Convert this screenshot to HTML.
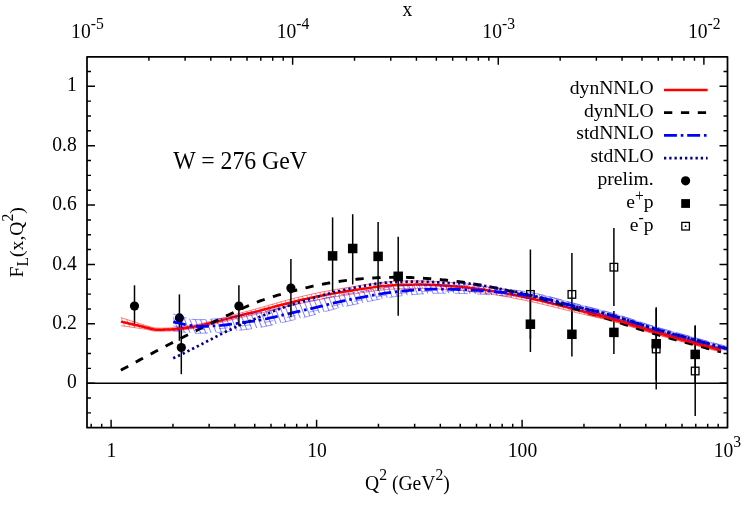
<!DOCTYPE html>
<html><head><meta charset="utf-8"><title>F_L(x,Q^2), W = 276 GeV</title>
<style>html,body{margin:0;padding:0;background:#fff;}body{width:747px;height:523px;overflow:hidden;font-family:"Liberation Serif",serif;}svg{display:block;will-change:transform;}text{font-family:"Liberation Serif",serif;fill:#000;}</style></head><body>
<svg width="747" height="523" viewBox="0 0 747 523">
<rect x="0" y="0" width="747" height="523" fill="#ffffff"/>
<defs>
<pattern id="hb" width="4.9" height="8" patternUnits="userSpaceOnUse" patternTransform="rotate(-22)"><line x1="2.45" y1="-1" x2="2.45" y2="9" stroke="#0000ff" stroke-width="0.5"/></pattern>
<pattern id="hr" width="4.4" height="8" patternUnits="userSpaceOnUse" patternTransform="rotate(-22)"><line x1="2.2" y1="-1" x2="2.2" y2="9" stroke="#ff0000" stroke-width="0.45"/></pattern>
<clipPath id="cp"><rect x="87" y="56.8" width="640.5" height="370.9"/></clipPath>
<clipPath id="cl"><rect x="87" y="56.8" width="498" height="370.9"/></clipPath>
<clipPath id="cr"><rect x="585" y="56.8" width="142.5" height="370.9"/></clipPath>
</defs>
<line x1="87" y1="383.2" x2="727.5" y2="383.2" stroke="#000" stroke-width="1.4"/>
<line x1="134.5" y1="285.3" x2="134.5" y2="326.3" stroke="#000" stroke-width="1.5"/>
<circle cx="134.5" cy="306.1" r="4.6" fill="#000"/>
<line x1="179.4" y1="294.4" x2="179.4" y2="340.8" stroke="#000" stroke-width="1.5"/>
<circle cx="179.4" cy="317.9" r="4.6" fill="#000"/>
<line x1="181.3" y1="318" x2="181.3" y2="374.2" stroke="#000" stroke-width="1.5"/>
<circle cx="181.3" cy="347.5" r="4.6" fill="#000"/>
<line x1="530.4" y1="295" x2="530.4" y2="352" stroke="#000" stroke-width="1.5"/>
<rect x="525.65" y="319.45" width="9.5" height="9.5" fill="#000"/>
<line x1="571.9" y1="312" x2="571.9" y2="356.5" stroke="#000" stroke-width="1.5"/>
<rect x="567.15" y="329.55" width="9.5" height="9.5" fill="#000"/>
<line x1="613.9" y1="311" x2="613.9" y2="354" stroke="#000" stroke-width="1.5"/>
<rect x="609.15" y="327.65" width="9.5" height="9.5" fill="#000"/>
<line x1="656.2" y1="307.2" x2="656.2" y2="380" stroke="#000" stroke-width="1.5"/>
<rect x="651.45" y="338.95" width="9.5" height="9.5" fill="#000"/>
<line x1="695.2" y1="325.2" x2="695.2" y2="383.5" stroke="#000" stroke-width="1.5"/>
<rect x="690.45" y="349.65" width="9.5" height="9.5" fill="#000"/>
<line x1="530.4" y1="249.5" x2="530.4" y2="339" stroke="#000" stroke-width="1.5"/>
<rect x="526.6" y="290.6" width="7.6" height="7.6" fill="none" stroke="#000" stroke-width="1.3"/>
<line x1="571.9" y1="253" x2="571.9" y2="336" stroke="#000" stroke-width="1.5"/>
<rect x="568.1" y="290.6" width="7.6" height="7.6" fill="none" stroke="#000" stroke-width="1.3"/>
<line x1="613.9" y1="227.9" x2="613.9" y2="306" stroke="#000" stroke-width="1.5"/>
<rect x="610.1" y="263.4" width="7.6" height="7.6" fill="none" stroke="#000" stroke-width="1.3"/>
<line x1="656.2" y1="308.5" x2="656.2" y2="389.6" stroke="#000" stroke-width="1.5"/>
<rect x="652.4" y="345.2" width="7.6" height="7.6" fill="none" stroke="#000" stroke-width="1.3"/>
<line x1="695.2" y1="326" x2="695.2" y2="416" stroke="#000" stroke-width="1.5"/>
<rect x="691.4" y="367.2" width="7.6" height="7.6" fill="none" stroke="#000" stroke-width="1.3"/>
<g clip-path="url(#cp)">
<path d="M120.9 317.6 L122.9 318.27 L124.9 318.92 L126.9 319.57 L128.9 320.21 L130.9 320.84 L132.9 321.46 L134.9 322.07 L136.9 322.69 L138.9 323.32 L140.9 323.96 L142.9 324.6 L144.9 325.25 L146.9 325.87 L148.9 326.45 L150.91 327.03 L152.91 327.62 L154.91 327.98 L156.91 328.09 L158.91 328.15 L160.91 328.18 L162.91 328.15 L164.91 328.1 L166.91 328.05 L168.91 327.98 L170.91 327.89 L172.91 327.79 L174.91 327.65 L176.91 327.47 L178.91 327.25 L180.91 327 L182.91 326.73 L184.91 326.44 L186.91 326.14 L188.91 325.84 L190.91 325.54 L192.91 325.23 L194.91 324.89 L196.91 324.54 L198.91 324.16 L200.91 323.75 L202.91 323.31 L204.91 322.83 L206.91 322.32 L208.91 321.79 L210.92 321.24 L212.92 320.68 L214.92 320.12 L216.92 319.56 L218.92 319 L220.92 318.46 L222.92 317.91 L224.92 317.36 L226.92 316.8 L228.92 316.25 L230.92 315.69 L232.92 315.13 L234.92 314.58 L236.92 314.02 L238.92 313.47 L240.92 312.93 L242.92 312.39 L244.92 311.85 L246.92 311.32 L248.92 310.8 L250.92 310.27 L252.92 309.74 L254.92 309.2 L256.92 308.66 L258.92 308.11 L260.92 307.55 L262.92 306.97 L264.92 306.38 L266.92 305.79 L268.92 305.21 L270.93 304.64 L272.93 304.07 L274.93 303.5 L276.93 302.93 L278.93 302.36 L280.93 301.8 L282.93 301.25 L284.93 300.7 L286.93 300.16 L288.93 299.63 L290.93 299.11 L292.93 298.59 L294.93 298.09 L296.93 297.59 L298.93 297.1 L300.93 296.62 L302.93 296.14 L304.93 295.68 L306.93 295.22 L308.93 294.77 L310.93 294.33 L312.93 293.9 L314.93 293.47 L316.93 293.05 L318.93 292.63 L320.93 292.22 L322.93 291.82 L324.93 291.43 L326.93 291.04 L328.93 290.66 L330.94 290.3 L332.94 289.94 L334.94 289.59 L336.94 289.25 L338.94 288.91 L340.94 288.58 L342.94 288.26 L344.94 287.93 L346.94 287.61 L348.94 287.29 L350.94 286.96 L352.94 286.63 L354.94 286.3 L356.94 285.97 L358.94 285.64 L360.94 285.32 L362.94 285.01 L364.94 284.72 L366.94 284.43 L368.94 284.16 L370.94 283.88 L372.94 283.6 L374.94 283.33 L376.94 283.06 L378.94 282.81 L380.94 282.56 L382.94 282.34 L384.94 282.13 L386.94 281.94 L388.94 281.78 L390.95 281.64 L392.95 281.51 L394.95 281.39 L396.95 281.27 L398.95 281.16 L400.95 281.07 L402.95 281 L404.95 280.94 L406.95 280.91 L408.95 280.89 L410.95 280.87 L412.95 280.86 L414.95 280.85 L416.95 280.84 L418.95 280.84 L420.95 280.85 L422.95 280.88 L424.95 280.94 L426.95 281.01 L428.95 281.11 L430.95 281.21 L432.95 281.33 L434.95 281.44 L436.95 281.57 L438.95 281.69 L440.95 281.8 L442.95 281.93 L444.95 282.07 L446.95 282.21 L448.95 282.37 L450.96 282.53 L452.96 282.7 L454.96 282.87 L456.96 283.05 L458.96 283.23 L460.96 283.42 L462.96 283.63 L464.96 283.83 L466.96 284.05 L468.96 284.28 L470.96 284.51 L472.96 284.75 L474.96 285 L476.96 285.26 L478.96 285.53 L480.96 285.82 L482.96 286.12 L484.96 286.44 L486.96 286.76 L488.96 287.1 L490.96 287.44 L492.96 287.79 L494.96 288.14 L496.96 288.49 L498.96 288.85 L500.96 289.22 L502.96 289.6 L504.96 289.99 L506.96 290.38 L508.96 290.78 L510.97 291.18 L512.97 291.59 L514.97 292 L516.97 292.41 L518.97 292.82 L520.97 293.24 L522.97 293.66 L524.97 294.08 L526.97 294.52 L528.97 294.97 L530.97 295.42 L532.97 295.89 L534.97 296.36 L536.97 296.84 L538.97 297.32 L540.97 297.81 L542.97 298.31 L544.97 298.81 L546.97 299.31 L548.97 299.82 L550.97 300.33 L552.97 300.85 L554.97 301.36 L556.97 301.88 L558.97 302.4 L560.97 302.93 L562.97 303.45 L564.97 303.97 L566.97 304.5 L568.97 305.02 L570.98 305.54 L572.98 306.06 L574.98 306.58 L576.98 307.11 L578.98 307.63 L580.98 308.15 L582.98 308.68 L584.98 309.22 L586.98 309.76 L588.98 310.31 L590.98 310.87 L592.98 311.43 L594.98 311.99 L596.98 312.56 L598.98 313.12 L600.98 313.69 L602.98 314.26 L604.98 314.82 L606.98 315.38 L608.98 315.93 L610.98 316.49 L612.98 317.04 L614.98 317.6 L616.98 318.17 L618.98 318.74 L620.98 319.33 L622.98 319.92 L624.98 320.53 L626.98 321.16 L628.98 321.79 L630.99 322.43 L632.99 323.08 L634.99 323.73 L636.99 324.38 L638.99 325.03 L640.99 325.68 L642.99 326.32 L644.99 326.96 L646.99 327.58 L648.99 328.2 L650.99 328.79 L652.99 329.39 L654.99 329.97 L656.99 330.55 L658.99 331.12 L660.99 331.7 L662.99 332.26 L664.99 332.83 L666.99 333.39 L668.99 333.95 L670.99 334.51 L672.99 335.07 L674.99 335.63 L676.99 336.19 L678.99 336.74 L680.99 337.29 L682.99 337.84 L684.99 338.39 L686.99 338.94 L688.99 339.48 L691 340.03 L693 340.57 L695 341.11 L697 341.65 L699 342.19 L701 342.72 L703 343.26 L705 343.79 L707 344.32 L709 344.85 L711 345.38 L713 345.91 L715 346.43 L717 346.96 L719 347.48 L721 348 L721 352 L719 351.48 L717 350.96 L715 350.44 L713 349.92 L711 349.4 L709 348.87 L707 348.35 L705 347.82 L703 347.29 L701 346.76 L699 346.23 L697 345.7 L695 345.16 L693 344.63 L691 344.09 L688.99 343.55 L686.99 343.01 L684.99 342.47 L682.99 341.93 L680.99 341.39 L678.99 340.84 L676.99 340.29 L674.99 339.74 L672.99 339.19 L670.99 338.64 L668.99 338.08 L666.99 337.53 L664.99 336.97 L662.99 336.42 L660.99 335.86 L658.99 335.29 L656.99 334.73 L654.99 334.15 L652.99 333.58 L650.99 332.99 L648.99 332.4 L646.99 331.79 L644.99 331.17 L642.99 330.55 L640.99 329.91 L638.99 329.27 L636.99 328.63 L634.99 327.98 L632.99 327.34 L630.99 326.7 L628.98 326.07 L626.98 325.44 L624.98 324.83 L622.98 324.23 L620.98 323.64 L618.98 323.07 L616.98 322.51 L614.98 321.96 L612.98 321.42 L610.98 320.88 L608.98 320.35 L606.98 319.83 L604.98 319.33 L602.98 318.84 L600.98 318.36 L598.98 317.88 L596.98 317.42 L594.98 316.96 L592.98 316.5 L590.98 316.04 L588.98 315.59 L586.98 315.13 L584.98 314.67 L582.98 314.2 L580.98 313.73 L578.98 313.25 L576.98 312.76 L574.98 312.27 L572.98 311.79 L570.98 311.3 L568.97 310.8 L566.97 310.31 L564.97 309.81 L562.97 309.31 L560.97 308.81 L558.97 308.31 L556.97 307.81 L554.97 307.31 L552.97 306.81 L550.97 306.31 L548.97 305.82 L546.97 305.33 L544.97 304.85 L542.97 304.37 L540.97 303.89 L538.97 303.42 L536.97 302.96 L534.97 302.5 L532.97 302.05 L530.97 301.61 L528.97 301.18 L526.97 300.76 L524.97 300.35 L522.97 299.95 L520.97 299.55 L518.97 299.16 L516.97 298.78 L514.97 298.39 L512.97 298.01 L510.97 297.63 L508.96 297.25 L506.96 296.88 L504.96 296.51 L502.96 296.15 L500.96 295.8 L498.96 295.46 L496.96 295.13 L494.96 294.8 L492.96 294.48 L490.96 294.15 L488.96 293.84 L486.96 293.53 L484.96 293.23 L482.96 292.94 L480.96 292.66 L478.96 292.4 L476.96 292.16 L474.96 291.92 L472.96 291.7 L470.96 291.48 L468.96 291.27 L466.96 291.07 L464.96 290.87 L462.96 290.69 L460.96 290.51 L458.96 290.34 L456.96 290.18 L454.96 290.02 L452.96 289.87 L450.96 289.72 L448.95 289.58 L446.95 289.44 L444.95 289.32 L442.95 289.2 L440.95 289.1 L438.95 289 L436.95 288.9 L434.95 288.8 L432.95 288.7 L430.95 288.61 L428.95 288.53 L426.95 288.45 L424.95 288.4 L422.95 288.36 L420.95 288.35 L418.95 288.36 L416.95 288.37 L414.95 288.39 L412.95 288.41 L410.95 288.44 L408.95 288.47 L406.95 288.49 L404.95 288.53 L402.95 288.59 L400.95 288.67 L398.95 288.76 L396.95 288.87 L394.95 288.98 L392.95 289.11 L390.95 289.23 L388.94 289.37 L386.94 289.52 L384.94 289.7 L382.94 289.91 L380.94 290.13 L378.94 290.36 L376.94 290.61 L374.94 290.87 L372.94 291.13 L370.94 291.4 L368.94 291.66 L366.94 291.93 L364.94 292.2 L362.94 292.48 L360.94 292.78 L358.94 293.08 L356.94 293.4 L354.94 293.71 L352.94 294.03 L350.94 294.34 L348.94 294.65 L346.94 294.95 L344.94 295.26 L342.94 295.56 L340.94 295.87 L338.94 296.18 L336.94 296.49 L334.94 296.81 L332.94 297.14 L330.94 297.48 L328.93 297.83 L326.93 298.18 L324.93 298.54 L322.93 298.91 L320.93 299.29 L318.93 299.67 L316.93 300.07 L314.93 300.46 L312.93 300.87 L310.93 301.27 L308.93 301.69 L306.93 302.11 L304.93 302.54 L302.93 302.98 L300.93 303.43 L298.93 303.88 L296.93 304.34 L294.93 304.8 L292.93 305.27 L290.93 305.74 L288.93 306.21 L286.93 306.68 L284.93 307.17 L282.93 307.66 L280.93 308.16 L278.93 308.66 L276.93 309.16 L274.93 309.66 L272.93 310.17 L270.93 310.67 L268.92 311.17 L266.92 311.68 L264.92 312.19 L262.92 312.69 L260.92 313.17 L258.92 313.64 L256.92 314.09 L254.92 314.53 L252.92 314.97 L250.92 315.4 L248.92 315.82 L246.92 316.25 L244.92 316.68 L242.92 317.12 L240.92 317.56 L238.92 318.02 L236.92 318.49 L234.92 318.97 L232.92 319.46 L230.92 319.95 L228.92 320.43 L226.92 320.92 L224.92 321.41 L222.92 321.9 L220.92 322.38 L218.92 322.86 L216.92 323.36 L214.92 323.86 L212.92 324.37 L210.92 324.87 L208.91 325.37 L206.91 325.86 L204.91 326.32 L202.91 326.76 L200.91 327.17 L198.91 327.54 L196.91 327.89 L194.91 328.21 L192.91 328.51 L190.91 328.8 L188.91 329.06 L186.91 329.33 L184.91 329.6 L182.91 329.87 L180.91 330.11 L178.91 330.34 L176.91 330.54 L174.91 330.7 L172.91 330.82 L170.91 330.91 L168.91 330.99 L166.91 331.05 L164.91 331.1 L162.91 331.16 L160.91 331.21 L158.91 331.23 L156.91 331.22 L154.91 331.18 L152.91 330.9 L150.91 330.39 L148.9 329.91 L146.9 329.52 L144.9 329.16 L142.9 328.83 L140.9 328.53 L138.9 328.25 L136.9 327.97 L134.9 327.69 L132.9 327.39 L130.9 327.1 L128.9 326.81 L126.9 326.51 L124.9 326.21 L122.9 325.91 L120.9 325.6 Z" fill="url(#hr)" stroke="none"/>
<path d="M120.9 317.6 L122.9 318.27 L124.9 318.92 L126.9 319.57 L128.9 320.21 L130.9 320.84 L132.9 321.46 L134.9 322.07 L136.9 322.69 L138.9 323.32 L140.9 323.96 L142.9 324.6 L144.9 325.25 L146.9 325.87 L148.9 326.45 L150.91 327.03 L152.91 327.62 L154.91 327.98 L156.91 328.09 L158.91 328.15 L160.91 328.18 L162.91 328.15 L164.91 328.1 L166.91 328.05 L168.91 327.98 L170.91 327.89 L172.91 327.79 L174.91 327.65 L176.91 327.47 L178.91 327.25 L180.91 327 L182.91 326.73 L184.91 326.44 L186.91 326.14 L188.91 325.84 L190.91 325.54 L192.91 325.23 L194.91 324.89 L196.91 324.54 L198.91 324.16 L200.91 323.75 L202.91 323.31 L204.91 322.83 L206.91 322.32 L208.91 321.79 L210.92 321.24 L212.92 320.68 L214.92 320.12 L216.92 319.56 L218.92 319 L220.92 318.46 L222.92 317.91 L224.92 317.36 L226.92 316.8 L228.92 316.25 L230.92 315.69 L232.92 315.13 L234.92 314.58 L236.92 314.02 L238.92 313.47 L240.92 312.93 L242.92 312.39 L244.92 311.85 L246.92 311.32 L248.92 310.8 L250.92 310.27 L252.92 309.74 L254.92 309.2 L256.92 308.66 L258.92 308.11 L260.92 307.55 L262.92 306.97 L264.92 306.38 L266.92 305.79 L268.92 305.21 L270.93 304.64 L272.93 304.07 L274.93 303.5 L276.93 302.93 L278.93 302.36 L280.93 301.8 L282.93 301.25 L284.93 300.7 L286.93 300.16 L288.93 299.63 L290.93 299.11 L292.93 298.59 L294.93 298.09 L296.93 297.59 L298.93 297.1 L300.93 296.62 L302.93 296.14 L304.93 295.68 L306.93 295.22 L308.93 294.77 L310.93 294.33 L312.93 293.9 L314.93 293.47 L316.93 293.05 L318.93 292.63 L320.93 292.22 L322.93 291.82 L324.93 291.43 L326.93 291.04 L328.93 290.66 L330.94 290.3 L332.94 289.94 L334.94 289.59 L336.94 289.25 L338.94 288.91 L340.94 288.58 L342.94 288.26 L344.94 287.93 L346.94 287.61 L348.94 287.29 L350.94 286.96 L352.94 286.63 L354.94 286.3 L356.94 285.97 L358.94 285.64 L360.94 285.32 L362.94 285.01 L364.94 284.72 L366.94 284.43 L368.94 284.16 L370.94 283.88 L372.94 283.6 L374.94 283.33 L376.94 283.06 L378.94 282.81 L380.94 282.56 L382.94 282.34 L384.94 282.13 L386.94 281.94 L388.94 281.78 L390.95 281.64 L392.95 281.51 L394.95 281.39 L396.95 281.27 L398.95 281.16 L400.95 281.07 L402.95 281 L404.95 280.94 L406.95 280.91 L408.95 280.89 L410.95 280.87 L412.95 280.86 L414.95 280.85 L416.95 280.84 L418.95 280.84 L420.95 280.85 L422.95 280.88 L424.95 280.94 L426.95 281.01 L428.95 281.11 L430.95 281.21 L432.95 281.33 L434.95 281.44 L436.95 281.57 L438.95 281.69 L440.95 281.8 L442.95 281.93 L444.95 282.07 L446.95 282.21 L448.95 282.37 L450.96 282.53 L452.96 282.7 L454.96 282.87 L456.96 283.05 L458.96 283.23 L460.96 283.42 L462.96 283.63 L464.96 283.83 L466.96 284.05 L468.96 284.28 L470.96 284.51 L472.96 284.75 L474.96 285 L476.96 285.26 L478.96 285.53 L480.96 285.82 L482.96 286.12 L484.96 286.44 L486.96 286.76 L488.96 287.1 L490.96 287.44 L492.96 287.79 L494.96 288.14 L496.96 288.49 L498.96 288.85 L500.96 289.22 L502.96 289.6 L504.96 289.99 L506.96 290.38 L508.96 290.78 L510.97 291.18 L512.97 291.59 L514.97 292 L516.97 292.41 L518.97 292.82 L520.97 293.24 L522.97 293.66 L524.97 294.08 L526.97 294.52 L528.97 294.97 L530.97 295.42 L532.97 295.89 L534.97 296.36 L536.97 296.84 L538.97 297.32 L540.97 297.81 L542.97 298.31 L544.97 298.81 L546.97 299.31 L548.97 299.82 L550.97 300.33 L552.97 300.85 L554.97 301.36 L556.97 301.88 L558.97 302.4 L560.97 302.93 L562.97 303.45 L564.97 303.97 L566.97 304.5 L568.97 305.02 L570.98 305.54 L572.98 306.06 L574.98 306.58 L576.98 307.11 L578.98 307.63 L580.98 308.15 L582.98 308.68 L584.98 309.22 L586.98 309.76 L588.98 310.31 L590.98 310.87 L592.98 311.43 L594.98 311.99 L596.98 312.56 L598.98 313.12 L600.98 313.69 L602.98 314.26 L604.98 314.82 L606.98 315.38 L608.98 315.93 L610.98 316.49 L612.98 317.04 L614.98 317.6 L616.98 318.17 L618.98 318.74 L620.98 319.33 L622.98 319.92 L624.98 320.53 L626.98 321.16 L628.98 321.79 L630.99 322.43 L632.99 323.08 L634.99 323.73 L636.99 324.38 L638.99 325.03 L640.99 325.68 L642.99 326.32 L644.99 326.96 L646.99 327.58 L648.99 328.2 L650.99 328.79 L652.99 329.39 L654.99 329.97 L656.99 330.55 L658.99 331.12 L660.99 331.7 L662.99 332.26 L664.99 332.83 L666.99 333.39 L668.99 333.95 L670.99 334.51 L672.99 335.07 L674.99 335.63 L676.99 336.19 L678.99 336.74 L680.99 337.29 L682.99 337.84 L684.99 338.39 L686.99 338.94 L688.99 339.48 L691 340.03 L693 340.57 L695 341.11 L697 341.65 L699 342.19 L701 342.72 L703 343.26 L705 343.79 L707 344.32 L709 344.85 L711 345.38 L713 345.91 L715 346.43 L717 346.96 L719 347.48 L721 348" fill="none" stroke="#ff0000" stroke-width="0.5"/>
<path d="M120.9 325.6 L122.9 325.91 L124.9 326.21 L126.9 326.51 L128.9 326.81 L130.9 327.1 L132.9 327.39 L134.9 327.69 L136.9 327.97 L138.9 328.25 L140.9 328.53 L142.9 328.83 L144.9 329.16 L146.9 329.52 L148.9 329.91 L150.91 330.39 L152.91 330.9 L154.91 331.18 L156.91 331.22 L158.91 331.23 L160.91 331.21 L162.91 331.16 L164.91 331.1 L166.91 331.05 L168.91 330.99 L170.91 330.91 L172.91 330.82 L174.91 330.7 L176.91 330.54 L178.91 330.34 L180.91 330.11 L182.91 329.87 L184.91 329.6 L186.91 329.33 L188.91 329.06 L190.91 328.8 L192.91 328.51 L194.91 328.21 L196.91 327.89 L198.91 327.54 L200.91 327.17 L202.91 326.76 L204.91 326.32 L206.91 325.86 L208.91 325.37 L210.92 324.87 L212.92 324.37 L214.92 323.86 L216.92 323.36 L218.92 322.86 L220.92 322.38 L222.92 321.9 L224.92 321.41 L226.92 320.92 L228.92 320.43 L230.92 319.95 L232.92 319.46 L234.92 318.97 L236.92 318.49 L238.92 318.02 L240.92 317.56 L242.92 317.12 L244.92 316.68 L246.92 316.25 L248.92 315.82 L250.92 315.4 L252.92 314.97 L254.92 314.53 L256.92 314.09 L258.92 313.64 L260.92 313.17 L262.92 312.69 L264.92 312.19 L266.92 311.68 L268.92 311.17 L270.93 310.67 L272.93 310.17 L274.93 309.66 L276.93 309.16 L278.93 308.66 L280.93 308.16 L282.93 307.66 L284.93 307.17 L286.93 306.68 L288.93 306.21 L290.93 305.74 L292.93 305.27 L294.93 304.8 L296.93 304.34 L298.93 303.88 L300.93 303.43 L302.93 302.98 L304.93 302.54 L306.93 302.11 L308.93 301.69 L310.93 301.27 L312.93 300.87 L314.93 300.46 L316.93 300.07 L318.93 299.67 L320.93 299.29 L322.93 298.91 L324.93 298.54 L326.93 298.18 L328.93 297.83 L330.94 297.48 L332.94 297.14 L334.94 296.81 L336.94 296.49 L338.94 296.18 L340.94 295.87 L342.94 295.56 L344.94 295.26 L346.94 294.95 L348.94 294.65 L350.94 294.34 L352.94 294.03 L354.94 293.71 L356.94 293.4 L358.94 293.08 L360.94 292.78 L362.94 292.48 L364.94 292.2 L366.94 291.93 L368.94 291.66 L370.94 291.4 L372.94 291.13 L374.94 290.87 L376.94 290.61 L378.94 290.36 L380.94 290.13 L382.94 289.91 L384.94 289.7 L386.94 289.52 L388.94 289.37 L390.95 289.23 L392.95 289.11 L394.95 288.98 L396.95 288.87 L398.95 288.76 L400.95 288.67 L402.95 288.59 L404.95 288.53 L406.95 288.49 L408.95 288.47 L410.95 288.44 L412.95 288.41 L414.95 288.39 L416.95 288.37 L418.95 288.36 L420.95 288.35 L422.95 288.36 L424.95 288.4 L426.95 288.45 L428.95 288.53 L430.95 288.61 L432.95 288.7 L434.95 288.8 L436.95 288.9 L438.95 289 L440.95 289.1 L442.95 289.2 L444.95 289.32 L446.95 289.44 L448.95 289.58 L450.96 289.72 L452.96 289.87 L454.96 290.02 L456.96 290.18 L458.96 290.34 L460.96 290.51 L462.96 290.69 L464.96 290.87 L466.96 291.07 L468.96 291.27 L470.96 291.48 L472.96 291.7 L474.96 291.92 L476.96 292.16 L478.96 292.4 L480.96 292.66 L482.96 292.94 L484.96 293.23 L486.96 293.53 L488.96 293.84 L490.96 294.15 L492.96 294.48 L494.96 294.8 L496.96 295.13 L498.96 295.46 L500.96 295.8 L502.96 296.15 L504.96 296.51 L506.96 296.88 L508.96 297.25 L510.97 297.63 L512.97 298.01 L514.97 298.39 L516.97 298.78 L518.97 299.16 L520.97 299.55 L522.97 299.95 L524.97 300.35 L526.97 300.76 L528.97 301.18 L530.97 301.61 L532.97 302.05 L534.97 302.5 L536.97 302.96 L538.97 303.42 L540.97 303.89 L542.97 304.37 L544.97 304.85 L546.97 305.33 L548.97 305.82 L550.97 306.31 L552.97 306.81 L554.97 307.31 L556.97 307.81 L558.97 308.31 L560.97 308.81 L562.97 309.31 L564.97 309.81 L566.97 310.31 L568.97 310.8 L570.98 311.3 L572.98 311.79 L574.98 312.27 L576.98 312.76 L578.98 313.25 L580.98 313.73 L582.98 314.2 L584.98 314.67 L586.98 315.13 L588.98 315.59 L590.98 316.04 L592.98 316.5 L594.98 316.96 L596.98 317.42 L598.98 317.88 L600.98 318.36 L602.98 318.84 L604.98 319.33 L606.98 319.83 L608.98 320.35 L610.98 320.88 L612.98 321.42 L614.98 321.96 L616.98 322.51 L618.98 323.07 L620.98 323.64 L622.98 324.23 L624.98 324.83 L626.98 325.44 L628.98 326.07 L630.99 326.7 L632.99 327.34 L634.99 327.98 L636.99 328.63 L638.99 329.27 L640.99 329.91 L642.99 330.55 L644.99 331.17 L646.99 331.79 L648.99 332.4 L650.99 332.99 L652.99 333.58 L654.99 334.15 L656.99 334.73 L658.99 335.29 L660.99 335.86 L662.99 336.42 L664.99 336.97 L666.99 337.53 L668.99 338.08 L670.99 338.64 L672.99 339.19 L674.99 339.74 L676.99 340.29 L678.99 340.84 L680.99 341.39 L682.99 341.93 L684.99 342.47 L686.99 343.01 L688.99 343.55 L691 344.09 L693 344.63 L695 345.16 L697 345.7 L699 346.23 L701 346.76 L703 347.29 L705 347.82 L707 348.35 L709 348.87 L711 349.4 L713 349.92 L715 350.44 L717 350.96 L719 351.48 L721 352" fill="none" stroke="#ff0000" stroke-width="0.5"/>
<path d="M586.98 309.76 L588.98 310.31 L590.98 310.87 L592.98 311.43 L594.98 311.99 L596.98 312.56 L598.98 313.12 L600.98 313.69 L602.98 314.26 L604.98 314.82 L606.98 315.38 L608.98 315.93 L610.98 316.49 L612.98 317.04 L614.98 317.6 L616.98 318.17 L618.98 318.74 L620.98 319.33 L622.98 319.92 L624.98 320.53 L626.98 321.16 L628.98 321.79 L630.99 322.43 L632.99 323.08 L634.99 323.73 L636.99 324.38 L638.99 325.03 L640.99 325.68 L642.99 326.32 L644.99 326.96 L646.99 327.58 L648.99 328.2 L650.99 328.79 L652.99 329.39 L654.99 329.97 L656.99 330.55 L658.99 331.12 L660.99 331.7 L662.99 332.26 L664.99 332.83 L666.99 333.39 L668.99 333.95 L670.99 334.51 L672.99 335.07 L674.99 335.63 L676.99 336.19 L678.99 336.74 L680.99 337.29 L682.99 337.84 L684.99 338.39 L686.99 338.94 L688.99 339.48 L691 340.03 L693 340.57 L695 341.11 L697 341.65 L699 342.19 L701 342.72 L703 343.26 L705 343.79 L707 344.32 L709 344.85 L711 345.38 L713 345.91 L715 346.43 L717 346.96 L719 347.48 L721 348 L721 352 L719 351.48 L717 350.96 L715 350.44 L713 349.92 L711 349.4 L709 348.87 L707 348.35 L705 347.82 L703 347.29 L701 346.76 L699 346.23 L697 345.7 L695 345.16 L693 344.63 L691 344.09 L688.99 343.55 L686.99 343.01 L684.99 342.47 L682.99 341.93 L680.99 341.39 L678.99 340.84 L676.99 340.29 L674.99 339.74 L672.99 339.19 L670.99 338.64 L668.99 338.08 L666.99 337.53 L664.99 336.97 L662.99 336.42 L660.99 335.86 L658.99 335.29 L656.99 334.73 L654.99 334.15 L652.99 333.58 L650.99 332.99 L648.99 332.4 L646.99 331.79 L644.99 331.17 L642.99 330.55 L640.99 329.91 L638.99 329.27 L636.99 328.63 L634.99 327.98 L632.99 327.34 L630.99 326.7 L628.98 326.07 L626.98 325.44 L624.98 324.83 L622.98 324.23 L620.98 323.64 L618.98 323.07 L616.98 322.51 L614.98 321.96 L612.98 321.42 L610.98 320.88 L608.98 320.35 L606.98 319.83 L604.98 319.33 L602.98 318.84 L600.98 318.36 L598.98 317.88 L596.98 317.42 L594.98 316.96 L592.98 316.5 L590.98 316.04 L588.98 315.59 L586.98 315.13 Z" fill="#ff0000" fill-opacity="0.55" stroke="none"/>
<path d="M120.9 370.2 L122.9 369.1 L124.9 368 L126.9 366.91 L128.9 365.81 L130.9 364.72 L132.9 363.64 L134.9 362.55 L136.9 361.47 L138.9 360.39 L140.9 359.31 L142.9 358.23 L144.9 357.16 L146.9 356.09 L148.9 355.02 L150.91 353.95 L152.91 352.89 L154.91 351.83 L156.91 350.77 L158.91 349.72 L160.91 348.67 L162.91 347.62 L164.91 346.57 L166.91 345.53 L168.91 344.49 L170.91 343.45 L172.91 342.41 L174.91 341.38 L176.91 340.35 L178.91 339.33 L180.91 338.31 L182.91 337.29 L184.91 336.27 L186.91 335.26 L188.91 334.25 L190.91 333.24 L192.91 332.24 L194.91 331.24 L196.91 330.24 L198.91 329.25 L200.91 328.26 L202.91 327.27 L204.91 326.29 L206.91 325.31 L208.91 324.33 L210.92 323.35 L212.92 322.38 L214.92 321.42 L216.92 320.45 L218.92 319.49 L220.92 318.53 L222.92 317.57 L224.92 316.62 L226.92 315.67 L228.92 314.72 L230.92 313.77 L232.92 312.83 L234.92 311.89 L236.92 310.95 L238.92 310.02 L240.92 309.1 L242.92 308.19 L244.92 307.3 L246.92 306.41 L248.92 305.54 L250.92 304.69 L252.92 303.85 L254.92 303.04 L256.92 302.24 L258.92 301.47 L260.92 300.72 L262.92 299.99 L264.92 299.29 L266.92 298.61 L268.92 297.94 L270.93 297.3 L272.93 296.67 L274.93 296.06 L276.93 295.46 L278.93 294.88 L280.93 294.3 L282.93 293.73 L284.93 293.18 L286.93 292.63 L288.93 292.09 L290.93 291.55 L292.93 291.03 L294.93 290.51 L296.93 290 L298.93 289.49 L300.93 288.99 L302.93 288.5 L304.93 288.02 L306.93 287.55 L308.93 287.09 L310.93 286.63 L312.93 286.19 L314.93 285.76 L316.93 285.33 L318.93 284.92 L320.93 284.52 L322.93 284.13 L324.93 283.75 L326.93 283.39 L328.93 283.04 L330.94 282.7 L332.94 282.37 L334.94 282.06 L336.94 281.76 L338.94 281.46 L340.94 281.18 L342.94 280.9 L344.94 280.63 L346.94 280.37 L348.94 280.12 L350.94 279.88 L352.94 279.64 L354.94 279.42 L356.94 279.21 L358.94 279.01 L360.94 278.82 L362.94 278.65 L364.94 278.49 L366.94 278.34 L368.94 278.21 L370.94 278.08 L372.94 277.96 L374.94 277.86 L376.94 277.76 L378.94 277.67 L380.94 277.59 L382.94 277.52 L384.94 277.46 L386.94 277.41 L388.94 277.36 L390.95 277.33 L392.95 277.31 L394.95 277.29 L396.95 277.28 L398.95 277.29 L400.95 277.3 L402.95 277.33 L404.95 277.37 L406.95 277.42 L408.95 277.48 L410.95 277.55 L412.95 277.64 L414.95 277.73 L416.95 277.84 L418.95 277.95 L420.95 278.08 L422.95 278.21 L424.95 278.35 L426.95 278.5 L428.95 278.65 L430.95 278.8 L432.95 278.97 L434.95 279.13 L436.95 279.31 L438.95 279.48 L440.95 279.67 L442.95 279.86 L444.95 280.05 L446.95 280.25 L448.95 280.46 L450.96 280.68 L452.96 280.9 L454.96 281.14 L456.96 281.39 L458.96 281.65 L460.96 281.92 L462.96 282.21 L464.96 282.51 L466.96 282.83 L468.96 283.15 L470.96 283.48 L472.96 283.82 L474.96 284.16 L476.96 284.51 L478.96 284.86 L480.96 285.21 L482.96 285.57 L484.96 285.93 L486.96 286.29 L488.96 286.67 L490.96 287.05 L492.96 287.44 L494.96 287.83 L496.96 288.24 L498.96 288.66 L500.96 289.08 L502.96 289.51 L504.96 289.94 L506.96 290.37 L508.96 290.81 L510.97 291.25 L512.97 291.68 L514.97 292.12 L516.97 292.56 L518.97 293.01 L520.97 293.46 L522.97 293.91 L524.97 294.38 L526.97 294.86 L528.97 295.34 L530.97 295.84 L532.97 296.36 L534.97 296.88 L536.97 297.42 L538.97 297.97 L540.97 298.53 L542.97 299.09 L544.97 299.67 L546.97 300.25 L548.97 300.84 L550.97 301.43 L552.97 302.03 L554.97 302.63 L556.97 303.24 L558.97 303.85 L560.97 304.46 L562.97 305.07 L564.97 305.68 L566.97 306.28 L568.97 306.89 L570.98 307.49 L572.98 308.09 L574.98 308.69 L576.98 309.29 L578.98 309.89 L580.98 310.48 L582.98 311.08 L584.98 311.68 L586.98 312.28 L588.98 312.89 L590.98 313.49 L592.98 314.11 L594.98 314.72 L596.98 315.35 L598.98 315.98 L600.98 316.61 L602.98 317.26 L604.98 317.91 L606.98 318.56 L608.98 319.22 L610.98 319.89 L612.98 320.55 L614.98 321.22 L616.98 321.89 L618.98 322.56 L620.98 323.23 L622.98 323.89 L624.98 324.56 L626.98 325.22 L628.98 325.87 L630.99 326.53 L632.99 327.18 L634.99 327.83 L636.99 328.47 L638.99 329.1 L640.99 329.73 L642.99 330.36 L644.99 330.98 L646.99 331.59 L648.99 332.2 L650.99 332.79 L652.99 333.39 L654.99 333.97 L656.99 334.55 L658.99 335.12 L660.99 335.69 L662.99 336.25 L664.99 336.81 L666.99 337.37 L668.99 337.93 L670.99 338.48 L672.99 339.03 L674.99 339.59 L676.99 340.14 L678.99 340.69 L680.99 341.23 L682.99 341.78 L684.99 342.33 L686.99 342.87 L688.99 343.42 L691 343.96 L693 344.5 L695 345.04 L697 345.58 L699 346.11 L701 346.65 L703 347.18 L705 347.71 L707 348.24 L709 348.77 L711 349.3 L713 349.82 L715 350.34 L717 350.86 L719 351.38 L721 351.9" fill="none" stroke="#000000" stroke-width="2.9" stroke-dasharray="8.3 8.6" clip-path="url(#cr)"/>
<path d="M120.9 321.6 L122.9 322.09 L124.9 322.57 L126.9 323.04 L128.9 323.51 L130.9 323.97 L132.9 324.42 L134.9 324.88 L136.9 325.33 L138.9 325.79 L140.9 326.24 L142.9 326.72 L144.9 327.2 L146.9 327.7 L148.9 328.18 L150.91 328.71 L152.91 329.26 L154.91 329.58 L156.91 329.66 L158.91 329.69 L160.91 329.69 L162.91 329.66 L164.91 329.6 L166.91 329.55 L168.91 329.48 L170.91 329.4 L172.91 329.3 L174.91 329.18 L176.91 329 L178.91 328.8 L180.91 328.56 L182.91 328.3 L184.91 328.02 L186.91 327.74 L188.91 327.45 L190.91 327.17 L192.91 326.87 L194.91 326.55 L196.91 326.21 L198.91 325.85 L200.91 325.46 L202.91 325.03 L204.91 324.57 L206.91 324.09 L208.91 323.58 L210.92 323.06 L212.92 322.53 L214.92 321.99 L216.92 321.46 L218.92 320.93 L220.92 320.42 L222.92 319.9 L224.92 319.39 L226.92 318.86 L228.92 318.34 L230.92 317.82 L232.92 317.29 L234.92 316.77 L236.92 316.26 L238.92 315.75 L240.92 315.24 L242.92 314.75 L244.92 314.27 L246.92 313.79 L248.92 313.31 L250.92 312.83 L252.92 312.35 L254.92 311.87 L256.92 311.38 L258.92 310.88 L260.92 310.36 L262.92 309.83 L264.92 309.28 L266.92 308.73 L268.92 308.19 L270.93 307.65 L272.93 307.12 L274.93 306.58 L276.93 306.05 L278.93 305.51 L280.93 304.98 L282.93 304.45 L284.93 303.93 L286.93 303.42 L288.93 302.92 L290.93 302.42 L292.93 301.93 L294.93 301.45 L296.93 300.97 L298.93 300.49 L300.93 300.02 L302.93 299.56 L304.93 299.11 L306.93 298.67 L308.93 298.23 L310.93 297.8 L312.93 297.38 L314.93 296.96 L316.93 296.56 L318.93 296.15 L320.93 295.76 L322.93 295.37 L324.93 294.99 L326.93 294.61 L328.93 294.25 L330.94 293.89 L332.94 293.54 L334.94 293.2 L336.94 292.87 L338.94 292.55 L340.94 292.23 L342.94 291.91 L344.94 291.6 L346.94 291.28 L348.94 290.97 L350.94 290.65 L352.94 290.33 L354.94 290.01 L356.94 289.68 L358.94 289.36 L360.94 289.05 L362.94 288.75 L364.94 288.46 L366.94 288.18 L368.94 287.91 L370.94 287.64 L372.94 287.37 L374.94 287.1 L376.94 286.84 L378.94 286.58 L380.94 286.35 L382.94 286.12 L384.94 285.92 L386.94 285.73 L388.94 285.57 L390.95 285.44 L392.95 285.31 L394.95 285.19 L396.95 285.07 L398.95 284.96 L400.95 284.87 L402.95 284.8 L404.95 284.74 L406.95 284.7 L408.95 284.68 L410.95 284.65 L412.95 284.63 L414.95 284.62 L416.95 284.61 L418.95 284.6 L420.95 284.6 L422.95 284.62 L424.95 284.67 L426.95 284.73 L428.95 284.82 L430.95 284.91 L432.95 285.01 L434.95 285.12 L436.95 285.23 L438.95 285.34 L440.95 285.45 L442.95 285.57 L444.95 285.69 L446.95 285.83 L448.95 285.97 L450.96 286.12 L452.96 286.28 L454.96 286.45 L456.96 286.61 L458.96 286.79 L460.96 286.97 L462.96 287.16 L464.96 287.35 L466.96 287.56 L468.96 287.77 L470.96 287.99 L472.96 288.22 L474.96 288.46 L476.96 288.71 L478.96 288.97 L480.96 289.24 L482.96 289.53 L484.96 289.83 L486.96 290.15 L488.96 290.47 L490.96 290.8 L492.96 291.13 L494.96 291.47 L496.96 291.81 L498.96 292.16 L500.96 292.51 L502.96 292.88 L504.96 293.25 L506.96 293.63 L508.96 294.02 L510.97 294.41 L512.97 294.8 L514.97 295.2 L516.97 295.59 L518.97 295.99 L520.97 296.39 L522.97 296.8 L524.97 297.22 L526.97 297.64 L528.97 298.07 L530.97 298.52 L532.97 298.97 L534.97 299.43 L536.97 299.9 L538.97 300.37 L540.97 300.85 L542.97 301.34 L544.97 301.83 L546.97 302.32 L548.97 302.82 L550.97 303.32 L552.97 303.83 L554.97 304.34 L556.97 304.84 L558.97 305.36 L560.97 305.87 L562.97 306.38 L564.97 306.89 L566.97 307.4 L568.97 307.91 L570.98 308.42 L572.98 308.93 L574.98 309.43 L576.98 309.93 L578.98 310.44 L580.98 310.94 L582.98 311.44 L584.98 311.94 L586.98 312.45 L588.98 312.95 L590.98 313.46 L592.98 313.96 L594.98 314.48 L596.98 314.99 L598.98 315.5 L600.98 316.02 L602.98 316.55 L604.98 317.07 L606.98 317.6 L608.98 318.14 L610.98 318.68 L612.98 319.23 L614.98 319.78 L616.98 320.34 L618.98 320.91 L620.98 321.48 L622.98 322.07 L624.98 322.68 L626.98 323.3 L628.98 323.93 L630.99 324.56 L632.99 325.21 L634.99 325.85 L636.99 326.5 L638.99 327.15 L640.99 327.79 L642.99 328.43 L644.99 329.07 L646.99 329.69 L648.99 330.3 L650.99 330.89 L652.99 331.48 L654.99 332.06 L656.99 332.64 L658.99 333.21 L660.99 333.78 L662.99 334.34 L664.99 334.9 L666.99 335.46 L668.99 336.02 L670.99 336.58 L672.99 337.13 L674.99 337.69 L676.99 338.24 L678.99 338.79 L680.99 339.34 L682.99 339.89 L684.99 340.43 L686.99 340.98 L688.99 341.52 L691 342.06 L693 342.6 L695 343.14 L697 343.67 L699 344.21 L701 344.74 L703 345.27 L705 345.81 L707 346.33 L709 346.86 L711 347.39 L713 347.91 L715 348.44 L717 348.96 L719 349.48 L721 350" fill="none" stroke="#ff0000" stroke-width="2.5"/>
<path d="M120.9 370.2 L122.9 369.1 L124.9 368 L126.9 366.91 L128.9 365.81 L130.9 364.72 L132.9 363.64 L134.9 362.55 L136.9 361.47 L138.9 360.39 L140.9 359.31 L142.9 358.23 L144.9 357.16 L146.9 356.09 L148.9 355.02 L150.91 353.95 L152.91 352.89 L154.91 351.83 L156.91 350.77 L158.91 349.72 L160.91 348.67 L162.91 347.62 L164.91 346.57 L166.91 345.53 L168.91 344.49 L170.91 343.45 L172.91 342.41 L174.91 341.38 L176.91 340.35 L178.91 339.33 L180.91 338.31 L182.91 337.29 L184.91 336.27 L186.91 335.26 L188.91 334.25 L190.91 333.24 L192.91 332.24 L194.91 331.24 L196.91 330.24 L198.91 329.25 L200.91 328.26 L202.91 327.27 L204.91 326.29 L206.91 325.31 L208.91 324.33 L210.92 323.35 L212.92 322.38 L214.92 321.42 L216.92 320.45 L218.92 319.49 L220.92 318.53 L222.92 317.57 L224.92 316.62 L226.92 315.67 L228.92 314.72 L230.92 313.77 L232.92 312.83 L234.92 311.89 L236.92 310.95 L238.92 310.02 L240.92 309.1 L242.92 308.19 L244.92 307.3 L246.92 306.41 L248.92 305.54 L250.92 304.69 L252.92 303.85 L254.92 303.04 L256.92 302.24 L258.92 301.47 L260.92 300.72 L262.92 299.99 L264.92 299.29 L266.92 298.61 L268.92 297.94 L270.93 297.3 L272.93 296.67 L274.93 296.06 L276.93 295.46 L278.93 294.88 L280.93 294.3 L282.93 293.73 L284.93 293.18 L286.93 292.63 L288.93 292.09 L290.93 291.55 L292.93 291.03 L294.93 290.51 L296.93 290 L298.93 289.49 L300.93 288.99 L302.93 288.5 L304.93 288.02 L306.93 287.55 L308.93 287.09 L310.93 286.63 L312.93 286.19 L314.93 285.76 L316.93 285.33 L318.93 284.92 L320.93 284.52 L322.93 284.13 L324.93 283.75 L326.93 283.39 L328.93 283.04 L330.94 282.7 L332.94 282.37 L334.94 282.06 L336.94 281.76 L338.94 281.46 L340.94 281.18 L342.94 280.9 L344.94 280.63 L346.94 280.37 L348.94 280.12 L350.94 279.88 L352.94 279.64 L354.94 279.42 L356.94 279.21 L358.94 279.01 L360.94 278.82 L362.94 278.65 L364.94 278.49 L366.94 278.34 L368.94 278.21 L370.94 278.08 L372.94 277.96 L374.94 277.86 L376.94 277.76 L378.94 277.67 L380.94 277.59 L382.94 277.52 L384.94 277.46 L386.94 277.41 L388.94 277.36 L390.95 277.33 L392.95 277.31 L394.95 277.29 L396.95 277.28 L398.95 277.29 L400.95 277.3 L402.95 277.33 L404.95 277.37 L406.95 277.42 L408.95 277.48 L410.95 277.55 L412.95 277.64 L414.95 277.73 L416.95 277.84 L418.95 277.95 L420.95 278.08 L422.95 278.21 L424.95 278.35 L426.95 278.5 L428.95 278.65 L430.95 278.8 L432.95 278.97 L434.95 279.13 L436.95 279.31 L438.95 279.48 L440.95 279.67 L442.95 279.86 L444.95 280.05 L446.95 280.25 L448.95 280.46 L450.96 280.68 L452.96 280.9 L454.96 281.14 L456.96 281.39 L458.96 281.65 L460.96 281.92 L462.96 282.21 L464.96 282.51 L466.96 282.83 L468.96 283.15 L470.96 283.48 L472.96 283.82 L474.96 284.16 L476.96 284.51 L478.96 284.86 L480.96 285.21 L482.96 285.57 L484.96 285.93 L486.96 286.29 L488.96 286.67 L490.96 287.05 L492.96 287.44 L494.96 287.83 L496.96 288.24 L498.96 288.66 L500.96 289.08 L502.96 289.51 L504.96 289.94 L506.96 290.37 L508.96 290.81 L510.97 291.25 L512.97 291.68 L514.97 292.12 L516.97 292.56 L518.97 293.01 L520.97 293.46 L522.97 293.91 L524.97 294.38 L526.97 294.86 L528.97 295.34 L530.97 295.84 L532.97 296.36 L534.97 296.88 L536.97 297.42 L538.97 297.97 L540.97 298.53 L542.97 299.09 L544.97 299.67 L546.97 300.25 L548.97 300.84 L550.97 301.43 L552.97 302.03 L554.97 302.63 L556.97 303.24 L558.97 303.85 L560.97 304.46 L562.97 305.07 L564.97 305.68 L566.97 306.28 L568.97 306.89 L570.98 307.49 L572.98 308.09 L574.98 308.69 L576.98 309.29 L578.98 309.89 L580.98 310.48 L582.98 311.08 L584.98 311.68 L586.98 312.28 L588.98 312.89 L590.98 313.49 L592.98 314.11 L594.98 314.72 L596.98 315.35 L598.98 315.98 L600.98 316.61 L602.98 317.26 L604.98 317.91 L606.98 318.56 L608.98 319.22 L610.98 319.89 L612.98 320.55 L614.98 321.22 L616.98 321.89 L618.98 322.56 L620.98 323.23 L622.98 323.89 L624.98 324.56 L626.98 325.22 L628.98 325.87 L630.99 326.53 L632.99 327.18 L634.99 327.83 L636.99 328.47 L638.99 329.1 L640.99 329.73 L642.99 330.36 L644.99 330.98 L646.99 331.59 L648.99 332.2 L650.99 332.79 L652.99 333.39 L654.99 333.97 L656.99 334.55 L658.99 335.12 L660.99 335.69 L662.99 336.25 L664.99 336.81 L666.99 337.37 L668.99 337.93 L670.99 338.48 L672.99 339.03 L674.99 339.59 L676.99 340.14 L678.99 340.69 L680.99 341.23 L682.99 341.78 L684.99 342.33 L686.99 342.87 L688.99 343.42 L691 343.96 L693 344.5 L695 345.04 L697 345.58 L699 346.11 L701 346.65 L703 347.18 L705 347.71 L707 348.24 L709 348.77 L711 349.3 L713 349.82 L715 350.34 L717 350.86 L719 351.38 L721 351.9" fill="none" stroke="#000000" stroke-width="2.9" stroke-dasharray="8.3 8.6" clip-path="url(#cl)"/>
<path d="M173.2 314 L175.2 314.66 L177.2 315.32 L179.2 315.96 L181.2 316.58 L183.21 317.21 L185.21 317.81 L187.21 318.34 L189.21 318.78 L191.21 319.1 L193.21 319.35 L195.21 319.53 L197.21 319.64 L199.21 319.69 L201.22 319.67 L203.22 319.62 L205.22 319.53 L207.22 319.42 L209.22 319.3 L211.22 319.16 L213.22 319.03 L215.22 318.89 L217.22 318.74 L219.22 318.58 L221.23 318.39 L223.23 318.18 L225.23 317.93 L227.23 317.65 L229.23 317.34 L231.23 317.02 L233.23 316.69 L235.23 316.35 L237.23 316.03 L239.24 315.72 L241.24 315.41 L243.24 315.12 L245.24 314.82 L247.24 314.52 L249.24 314.22 L251.24 313.9 L253.24 313.57 L255.24 313.23 L257.25 312.87 L259.25 312.49 L261.25 312.09 L263.25 311.68 L265.25 311.25 L267.25 310.8 L269.25 310.35 L271.25 309.88 L273.25 309.41 L275.26 308.93 L277.26 308.45 L279.26 307.96 L281.26 307.47 L283.26 306.98 L285.26 306.5 L287.26 306.02 L289.26 305.54 L291.26 305.08 L293.26 304.63 L295.27 304.19 L297.27 303.77 L299.27 303.36 L301.27 302.95 L303.27 302.56 L305.27 302.17 L307.27 301.78 L309.27 301.39 L311.27 301 L313.28 300.61 L315.28 300.2 L317.28 299.79 L319.28 299.36 L321.28 298.93 L323.28 298.5 L325.28 298.06 L327.28 297.62 L329.28 297.17 L331.29 296.74 L333.29 296.31 L335.29 295.89 L337.29 295.49 L339.29 295.1 L341.29 294.74 L343.29 294.38 L345.29 294.04 L347.29 293.7 L349.3 293.38 L351.3 293.06 L353.3 292.74 L355.3 292.42 L357.3 292.1 L359.3 291.78 L361.3 291.45 L363.3 291.12 L365.3 290.78 L367.31 290.45 L369.31 290.11 L371.31 289.78 L373.31 289.45 L375.31 289.12 L377.31 288.81 L379.31 288.5 L381.31 288.2 L383.31 287.92 L385.31 287.66 L387.32 287.41 L389.32 287.17 L391.32 286.95 L393.32 286.74 L395.32 286.54 L397.32 286.35 L399.32 286.18 L401.32 286.01 L403.32 285.86 L405.33 285.71 L407.33 285.57 L409.33 285.44 L411.33 285.32 L413.33 285.2 L415.33 285.1 L417.33 285.01 L419.33 284.93 L421.33 284.85 L423.34 284.79 L425.34 284.74 L427.34 284.7 L429.34 284.67 L431.34 284.65 L433.34 284.64 L435.34 284.64 L437.34 284.66 L439.34 284.68 L441.35 284.72 L443.35 284.76 L445.35 284.81 L447.35 284.86 L449.35 284.93 L451.35 285 L453.35 285.08 L455.35 285.16 L457.35 285.25 L459.35 285.34 L461.36 285.44 L463.36 285.54 L465.36 285.65 L467.36 285.76 L469.36 285.88 L471.36 286.01 L473.36 286.14 L475.36 286.28 L477.36 286.43 L479.37 286.58 L481.37 286.74 L483.37 286.91 L485.37 287.08 L487.37 287.26 L489.37 287.44 L491.37 287.62 L493.37 287.82 L495.37 288.01 L497.38 288.21 L499.38 288.42 L501.38 288.62 L503.38 288.84 L505.38 289.05 L507.38 289.28 L509.38 289.51 L511.38 289.74 L513.38 289.99 L515.39 290.23 L517.39 290.49 L519.39 290.76 L521.39 291.03 L523.39 291.32 L525.39 291.63 L527.39 291.95 L529.39 292.29 L531.39 292.66 L533.39 293.04 L535.4 293.45 L537.4 293.88 L539.4 294.32 L541.4 294.78 L543.4 295.26 L545.4 295.75 L547.4 296.25 L549.4 296.76 L551.4 297.28 L553.41 297.81 L555.41 298.35 L557.41 298.89 L559.41 299.43 L561.41 299.97 L563.41 300.52 L565.41 301.06 L567.41 301.6 L569.41 302.13 L571.42 302.66 L573.42 303.18 L575.42 303.7 L577.42 304.21 L579.42 304.72 L581.42 305.23 L583.42 305.73 L585.42 306.24 L587.42 306.74 L589.43 307.24 L591.43 307.74 L593.43 308.25 L595.43 308.76 L597.43 309.27 L599.43 309.78 L601.43 310.31 L603.43 310.83 L605.43 311.36 L607.44 311.9 L609.44 312.45 L611.44 313.01 L613.44 313.57 L615.44 314.15 L617.44 314.73 L619.44 315.33 L621.44 315.94 L623.44 316.56 L625.44 317.2 L627.45 317.84 L629.45 318.49 L631.45 319.15 L633.45 319.81 L635.45 320.47 L637.45 321.13 L639.45 321.79 L641.45 322.45 L643.45 323.11 L645.46 323.75 L647.46 324.39 L649.46 325.02 L651.46 325.64 L653.46 326.24 L655.46 326.84 L657.46 327.42 L659.46 328 L661.46 328.57 L663.47 329.13 L665.47 329.69 L667.47 330.24 L669.47 330.79 L671.47 331.34 L673.47 331.88 L675.47 332.42 L677.47 332.97 L679.47 333.51 L681.48 334.06 L683.48 334.61 L685.48 335.16 L687.48 335.71 L689.48 336.26 L691.48 336.81 L693.48 337.37 L695.48 337.93 L697.48 338.48 L699.48 339.04 L701.49 339.6 L703.49 340.16 L705.49 340.71 L707.49 341.27 L709.49 341.83 L711.49 342.39 L713.49 342.94 L715.49 343.5 L717.49 344.05 L719.5 344.61 L721.5 345.16 L723.5 345.71 L725.5 346.25 L727.5 346.8 L727.5 350.7 L725.5 350.15 L723.5 349.61 L721.5 349.06 L719.5 348.51 L717.49 347.96 L715.49 347.41 L713.49 346.85 L711.49 346.3 L709.49 345.74 L707.49 345.19 L705.49 344.64 L703.49 344.08 L701.49 343.53 L699.48 342.97 L697.48 342.42 L695.48 341.87 L693.48 341.32 L691.48 340.77 L689.48 340.22 L687.48 339.67 L685.48 339.13 L683.48 338.58 L681.48 338.04 L679.47 337.5 L677.47 336.97 L675.47 336.43 L673.47 335.9 L671.47 335.36 L669.47 334.82 L667.47 334.28 L665.47 333.74 L663.47 333.19 L661.46 332.64 L659.46 332.08 L657.46 331.51 L655.46 330.93 L653.46 330.35 L651.46 329.75 L649.46 329.15 L647.46 328.53 L645.46 327.9 L643.45 327.26 L641.45 326.62 L639.45 325.98 L637.45 325.33 L635.45 324.67 L633.45 324.02 L631.45 323.38 L629.45 322.73 L627.45 322.09 L625.44 321.46 L623.44 320.84 L621.44 320.23 L619.44 319.63 L617.44 319.05 L615.44 318.48 L613.44 317.93 L611.44 317.38 L609.44 316.85 L607.44 316.33 L605.43 315.82 L603.43 315.31 L601.43 314.82 L599.43 314.33 L597.43 313.85 L595.43 313.37 L593.43 312.9 L591.43 312.44 L589.43 311.97 L587.42 311.51 L585.42 311.05 L583.42 310.59 L581.42 310.13 L579.42 309.67 L577.42 309.21 L575.42 308.74 L573.42 308.28 L571.42 307.8 L569.41 307.32 L567.41 306.84 L565.41 306.35 L563.41 305.86 L561.41 305.37 L559.41 304.88 L557.41 304.39 L555.41 303.9 L553.41 303.42 L551.4 302.94 L549.4 302.47 L547.4 302.01 L545.4 301.56 L543.4 301.13 L541.4 300.7 L539.4 300.29 L537.4 299.9 L535.4 299.52 L533.39 299.16 L531.39 298.82 L529.39 298.51 L527.39 298.21 L525.39 297.94 L523.39 297.68 L521.39 297.45 L519.39 297.22 L517.39 297.01 L515.39 296.8 L513.38 296.61 L511.38 296.42 L509.38 296.24 L507.38 296.06 L505.38 295.89 L503.38 295.73 L501.38 295.57 L499.38 295.42 L497.38 295.27 L495.37 295.13 L493.37 294.99 L491.37 294.85 L489.37 294.72 L487.37 294.59 L485.37 294.47 L483.37 294.35 L481.37 294.24 L479.37 294.14 L477.36 294.04 L475.36 293.94 L473.36 293.86 L471.36 293.78 L469.36 293.7 L467.36 293.63 L465.36 293.57 L463.36 293.51 L461.36 293.45 L459.35 293.4 L457.35 293.36 L455.35 293.32 L453.35 293.28 L451.35 293.25 L449.35 293.23 L447.35 293.21 L445.35 293.21 L443.35 293.21 L441.35 293.22 L439.34 293.23 L437.34 293.27 L435.34 293.31 L433.34 293.36 L431.34 293.43 L429.34 293.51 L427.34 293.6 L425.34 293.7 L423.34 293.82 L421.33 293.95 L419.33 294.09 L417.33 294.24 L415.33 294.4 L413.33 294.58 L411.33 294.76 L409.33 294.95 L407.33 295.16 L405.33 295.37 L403.32 295.59 L401.32 295.82 L399.32 296.06 L397.32 296.32 L395.32 296.58 L393.32 296.86 L391.32 297.15 L389.32 297.45 L387.32 297.77 L385.31 298.1 L383.31 298.45 L381.31 298.82 L379.31 299.2 L377.31 299.6 L375.31 300 L373.31 300.42 L371.31 300.84 L369.31 301.27 L367.31 301.7 L365.3 302.13 L363.3 302.56 L361.3 302.99 L359.3 303.41 L357.3 303.83 L355.3 304.25 L353.3 304.67 L351.3 305.1 L349.3 305.52 L347.29 305.96 L345.29 306.4 L343.29 306.86 L341.29 307.32 L339.29 307.8 L337.29 308.3 L335.29 308.81 L333.29 309.33 L331.29 309.87 L329.28 310.41 L327.28 310.97 L325.28 311.54 L323.28 312.11 L321.28 312.68 L319.28 313.26 L317.28 313.82 L315.28 314.38 L313.28 314.93 L311.27 315.48 L309.27 316.01 L307.27 316.53 L305.27 317.04 L303.27 317.55 L301.27 318.05 L299.27 318.54 L297.27 319.03 L295.27 319.52 L293.26 320 L291.26 320.47 L289.26 320.94 L287.26 321.41 L285.26 321.89 L283.26 322.36 L281.26 322.83 L279.26 323.3 L277.26 323.77 L275.26 324.23 L273.25 324.68 L271.25 325.13 L269.25 325.56 L267.25 325.98 L265.25 326.4 L263.25 326.79 L261.25 327.17 L259.25 327.53 L257.25 327.88 L255.24 328.21 L253.24 328.52 L251.24 328.82 L249.24 329.11 L247.24 329.36 L245.24 329.6 L243.24 329.82 L241.24 330.04 L239.24 330.25 L237.23 330.46 L235.23 330.69 L233.23 330.92 L231.23 331.16 L229.23 331.39 L227.23 331.62 L225.23 331.83 L223.23 332.02 L221.23 332.2 L219.22 332.35 L217.22 332.49 L215.22 332.61 L213.22 332.73 L211.22 332.84 L209.22 332.96 L207.22 333.06 L205.22 333.14 L203.22 333.2 L201.22 333.26 L199.21 333.3 L197.21 333.31 L195.21 333.26 L193.21 333.17 L191.21 333.03 L189.21 332.84 L187.21 332.61 L185.21 332.37 L183.21 332.12 L181.2 331.86 L179.2 331.61 L177.2 331.38 L175.2 331.18 L173.2 331 Z" fill="url(#hb)" stroke="none"/>
<path d="M541.4 294.78 L543.4 295.26 L545.4 295.75 L547.4 296.25 L549.4 296.76 L551.4 297.28 L553.41 297.81 L555.41 298.35 L557.41 298.89 L559.41 299.43 L561.41 299.97 L563.41 300.52 L565.41 301.06 L567.41 301.6 L569.41 302.13 L571.42 302.66 L573.42 303.18 L575.42 303.7 L577.42 304.21 L579.42 304.72 L581.42 305.23 L583.42 305.73 L585.42 306.24 L587.42 306.74 L589.43 307.24 L591.43 307.74 L593.43 308.25 L595.43 308.76 L597.43 309.27 L599.43 309.78 L601.43 310.31 L603.43 310.83 L605.43 311.36 L607.44 311.9 L609.44 312.45 L611.44 313.01 L613.44 313.57 L615.44 314.15 L617.44 314.73 L619.44 315.33 L621.44 315.94 L623.44 316.56 L625.44 317.2 L627.45 317.84 L629.45 318.49 L631.45 319.15 L633.45 319.81 L635.45 320.47 L637.45 321.13 L639.45 321.79 L641.45 322.45 L643.45 323.11 L645.46 323.75 L647.46 324.39 L649.46 325.02 L651.46 325.64 L653.46 326.24 L655.46 326.84 L657.46 327.42 L659.46 328 L661.46 328.57 L663.47 329.13 L665.47 329.69 L667.47 330.24 L669.47 330.79 L671.47 331.34 L673.47 331.88 L675.47 332.42 L677.47 332.97 L679.47 333.51 L681.48 334.06 L683.48 334.61 L685.48 335.16 L687.48 335.71 L689.48 336.26 L691.48 336.81 L693.48 337.37 L695.48 337.93 L697.48 338.48 L699.48 339.04 L701.49 339.6 L703.49 340.16 L705.49 340.71 L707.49 341.27 L709.49 341.83 L711.49 342.39 L713.49 342.94 L715.49 343.5 L717.49 344.05 L719.5 344.61 L721.5 345.16 L723.5 345.71 L725.5 346.25 L727.5 346.8 L727.5 350.7 L725.5 350.15 L723.5 349.61 L721.5 349.06 L719.5 348.51 L717.49 347.96 L715.49 347.41 L713.49 346.85 L711.49 346.3 L709.49 345.74 L707.49 345.19 L705.49 344.64 L703.49 344.08 L701.49 343.53 L699.48 342.97 L697.48 342.42 L695.48 341.87 L693.48 341.32 L691.48 340.77 L689.48 340.22 L687.48 339.67 L685.48 339.13 L683.48 338.58 L681.48 338.04 L679.47 337.5 L677.47 336.97 L675.47 336.43 L673.47 335.9 L671.47 335.36 L669.47 334.82 L667.47 334.28 L665.47 333.74 L663.47 333.19 L661.46 332.64 L659.46 332.08 L657.46 331.51 L655.46 330.93 L653.46 330.35 L651.46 329.75 L649.46 329.15 L647.46 328.53 L645.46 327.9 L643.45 327.26 L641.45 326.62 L639.45 325.98 L637.45 325.33 L635.45 324.67 L633.45 324.02 L631.45 323.38 L629.45 322.73 L627.45 322.09 L625.44 321.46 L623.44 320.84 L621.44 320.23 L619.44 319.63 L617.44 319.05 L615.44 318.48 L613.44 317.93 L611.44 317.38 L609.44 316.85 L607.44 316.33 L605.43 315.82 L603.43 315.31 L601.43 314.82 L599.43 314.33 L597.43 313.85 L595.43 313.37 L593.43 312.9 L591.43 312.44 L589.43 311.97 L587.42 311.51 L585.42 311.05 L583.42 310.59 L581.42 310.13 L579.42 309.67 L577.42 309.21 L575.42 308.74 L573.42 308.28 L571.42 307.8 L569.41 307.32 L567.41 306.84 L565.41 306.35 L563.41 305.86 L561.41 305.37 L559.41 304.88 L557.41 304.39 L555.41 303.9 L553.41 303.42 L551.4 302.94 L549.4 302.47 L547.4 302.01 L545.4 301.56 L543.4 301.13 L541.4 300.7 Z" fill="#0000ff" fill-opacity="0.15" stroke="#0000ff" stroke-width="0.45" stroke-opacity="0.5"/>
<path d="M173.2 314 L175.2 314.66 L177.2 315.32 L179.2 315.96 L181.2 316.58 L183.21 317.21 L185.21 317.81 L187.21 318.34 L189.21 318.78 L191.21 319.1 L193.21 319.35 L195.21 319.53 L197.21 319.64 L199.21 319.69 L201.22 319.67 L203.22 319.62 L205.22 319.53 L207.22 319.42 L209.22 319.3 L211.22 319.16 L213.22 319.03 L215.22 318.89 L217.22 318.74 L219.22 318.58 L221.23 318.39 L223.23 318.18 L225.23 317.93 L227.23 317.65 L229.23 317.34 L231.23 317.02 L233.23 316.69 L235.23 316.35 L237.23 316.03 L239.24 315.72 L241.24 315.41 L243.24 315.12 L245.24 314.82 L247.24 314.52 L249.24 314.22 L251.24 313.9 L253.24 313.57 L255.24 313.23 L257.25 312.87 L259.25 312.49 L261.25 312.09 L263.25 311.68 L265.25 311.25 L267.25 310.8 L269.25 310.35 L271.25 309.88 L273.25 309.41 L275.26 308.93 L277.26 308.45 L279.26 307.96 L281.26 307.47 L283.26 306.98 L285.26 306.5 L287.26 306.02 L289.26 305.54 L291.26 305.08 L293.26 304.63 L295.27 304.19 L297.27 303.77 L299.27 303.36 L301.27 302.95 L303.27 302.56 L305.27 302.17 L307.27 301.78 L309.27 301.39 L311.27 301 L313.28 300.61 L315.28 300.2 L317.28 299.79 L319.28 299.36 L321.28 298.93 L323.28 298.5 L325.28 298.06 L327.28 297.62 L329.28 297.17 L331.29 296.74 L333.29 296.31 L335.29 295.89 L337.29 295.49 L339.29 295.1 L341.29 294.74 L343.29 294.38 L345.29 294.04 L347.29 293.7 L349.3 293.38 L351.3 293.06 L353.3 292.74 L355.3 292.42 L357.3 292.1 L359.3 291.78 L361.3 291.45 L363.3 291.12 L365.3 290.78 L367.31 290.45 L369.31 290.11 L371.31 289.78 L373.31 289.45 L375.31 289.12 L377.31 288.81 L379.31 288.5 L381.31 288.2 L383.31 287.92 L385.31 287.66 L387.32 287.41 L389.32 287.17 L391.32 286.95 L393.32 286.74 L395.32 286.54 L397.32 286.35 L399.32 286.18 L401.32 286.01 L403.32 285.86 L405.33 285.71 L407.33 285.57 L409.33 285.44 L411.33 285.32 L413.33 285.2 L415.33 285.1 L417.33 285.01 L419.33 284.93 L421.33 284.85 L423.34 284.79 L425.34 284.74 L427.34 284.7 L429.34 284.67 L431.34 284.65 L433.34 284.64 L435.34 284.64 L437.34 284.66 L439.34 284.68 L441.35 284.72 L443.35 284.76 L445.35 284.81 L447.35 284.86 L449.35 284.93 L451.35 285 L453.35 285.08 L455.35 285.16 L457.35 285.25 L459.35 285.34 L461.36 285.44 L463.36 285.54 L465.36 285.65 L467.36 285.76 L469.36 285.88 L471.36 286.01 L473.36 286.14 L475.36 286.28 L477.36 286.43 L479.37 286.58 L481.37 286.74 L483.37 286.91 L485.37 287.08 L487.37 287.26 L489.37 287.44 L491.37 287.62 L493.37 287.82 L495.37 288.01 L497.38 288.21 L499.38 288.42 L501.38 288.62 L503.38 288.84 L505.38 289.05 L507.38 289.28 L509.38 289.51 L511.38 289.74 L513.38 289.99 L515.39 290.23 L517.39 290.49 L519.39 290.76 L521.39 291.03 L523.39 291.32 L525.39 291.63 L527.39 291.95 L529.39 292.29 L531.39 292.66 L533.39 293.04 L535.4 293.45 L537.4 293.88 L539.4 294.32 L541.4 294.78 L543.4 295.26 L545.4 295.75 L547.4 296.25 L549.4 296.76 L551.4 297.28 L553.41 297.81 L555.41 298.35 L557.41 298.89 L559.41 299.43 L561.41 299.97 L563.41 300.52 L565.41 301.06 L567.41 301.6 L569.41 302.13 L571.42 302.66 L573.42 303.18 L575.42 303.7 L577.42 304.21 L579.42 304.72 L581.42 305.23 L583.42 305.73 L585.42 306.24 L587.42 306.74 L589.43 307.24 L591.43 307.74 L593.43 308.25 L595.43 308.76 L597.43 309.27 L599.43 309.78 L601.43 310.31 L603.43 310.83 L605.43 311.36 L607.44 311.9 L609.44 312.45 L611.44 313.01 L613.44 313.57 L615.44 314.15 L617.44 314.73 L619.44 315.33 L621.44 315.94 L623.44 316.56 L625.44 317.2 L627.45 317.84 L629.45 318.49 L631.45 319.15 L633.45 319.81 L635.45 320.47 L637.45 321.13 L639.45 321.79 L641.45 322.45 L643.45 323.11 L645.46 323.75 L647.46 324.39 L649.46 325.02 L651.46 325.64 L653.46 326.24 L655.46 326.84 L657.46 327.42 L659.46 328 L661.46 328.57 L663.47 329.13 L665.47 329.69 L667.47 330.24 L669.47 330.79 L671.47 331.34 L673.47 331.88 L675.47 332.42 L677.47 332.97 L679.47 333.51 L681.48 334.06 L683.48 334.61 L685.48 335.16 L687.48 335.71 L689.48 336.26 L691.48 336.81 L693.48 337.37 L695.48 337.93 L697.48 338.48 L699.48 339.04 L701.49 339.6 L703.49 340.16 L705.49 340.71 L707.49 341.27 L709.49 341.83 L711.49 342.39 L713.49 342.94 L715.49 343.5 L717.49 344.05 L719.5 344.61 L721.5 345.16 L723.5 345.71 L725.5 346.25 L727.5 346.8" fill="none" stroke="#0000ff" stroke-width="0.45" stroke-dasharray="14 5"/>
<path d="M173.2 331 L175.2 331.18 L177.2 331.38 L179.2 331.61 L181.2 331.86 L183.21 332.12 L185.21 332.37 L187.21 332.61 L189.21 332.84 L191.21 333.03 L193.21 333.17 L195.21 333.26 L197.21 333.31 L199.21 333.3 L201.22 333.26 L203.22 333.2 L205.22 333.14 L207.22 333.06 L209.22 332.96 L211.22 332.84 L213.22 332.73 L215.22 332.61 L217.22 332.49 L219.22 332.35 L221.23 332.2 L223.23 332.02 L225.23 331.83 L227.23 331.62 L229.23 331.39 L231.23 331.16 L233.23 330.92 L235.23 330.69 L237.23 330.46 L239.24 330.25 L241.24 330.04 L243.24 329.82 L245.24 329.6 L247.24 329.36 L249.24 329.11 L251.24 328.82 L253.24 328.52 L255.24 328.21 L257.25 327.88 L259.25 327.53 L261.25 327.17 L263.25 326.79 L265.25 326.4 L267.25 325.98 L269.25 325.56 L271.25 325.13 L273.25 324.68 L275.26 324.23 L277.26 323.77 L279.26 323.3 L281.26 322.83 L283.26 322.36 L285.26 321.89 L287.26 321.41 L289.26 320.94 L291.26 320.47 L293.26 320 L295.27 319.52 L297.27 319.03 L299.27 318.54 L301.27 318.05 L303.27 317.55 L305.27 317.04 L307.27 316.53 L309.27 316.01 L311.27 315.48 L313.28 314.93 L315.28 314.38 L317.28 313.82 L319.28 313.26 L321.28 312.68 L323.28 312.11 L325.28 311.54 L327.28 310.97 L329.28 310.41 L331.29 309.87 L333.29 309.33 L335.29 308.81 L337.29 308.3 L339.29 307.8 L341.29 307.32 L343.29 306.86 L345.29 306.4 L347.29 305.96 L349.3 305.52 L351.3 305.1 L353.3 304.67 L355.3 304.25 L357.3 303.83 L359.3 303.41 L361.3 302.99 L363.3 302.56 L365.3 302.13 L367.31 301.7 L369.31 301.27 L371.31 300.84 L373.31 300.42 L375.31 300 L377.31 299.6 L379.31 299.2 L381.31 298.82 L383.31 298.45 L385.31 298.1 L387.32 297.77 L389.32 297.45 L391.32 297.15 L393.32 296.86 L395.32 296.58 L397.32 296.32 L399.32 296.06 L401.32 295.82 L403.32 295.59 L405.33 295.37 L407.33 295.16 L409.33 294.95 L411.33 294.76 L413.33 294.58 L415.33 294.4 L417.33 294.24 L419.33 294.09 L421.33 293.95 L423.34 293.82 L425.34 293.7 L427.34 293.6 L429.34 293.51 L431.34 293.43 L433.34 293.36 L435.34 293.31 L437.34 293.27 L439.34 293.23 L441.35 293.22 L443.35 293.21 L445.35 293.21 L447.35 293.21 L449.35 293.23 L451.35 293.25 L453.35 293.28 L455.35 293.32 L457.35 293.36 L459.35 293.4 L461.36 293.45 L463.36 293.51 L465.36 293.57 L467.36 293.63 L469.36 293.7 L471.36 293.78 L473.36 293.86 L475.36 293.94 L477.36 294.04 L479.37 294.14 L481.37 294.24 L483.37 294.35 L485.37 294.47 L487.37 294.59 L489.37 294.72 L491.37 294.85 L493.37 294.99 L495.37 295.13 L497.38 295.27 L499.38 295.42 L501.38 295.57 L503.38 295.73 L505.38 295.89 L507.38 296.06 L509.38 296.24 L511.38 296.42 L513.38 296.61 L515.39 296.8 L517.39 297.01 L519.39 297.22 L521.39 297.45 L523.39 297.68 L525.39 297.94 L527.39 298.21 L529.39 298.51 L531.39 298.82 L533.39 299.16 L535.4 299.52 L537.4 299.9 L539.4 300.29 L541.4 300.7 L543.4 301.13 L545.4 301.56 L547.4 302.01 L549.4 302.47 L551.4 302.94 L553.41 303.42 L555.41 303.9 L557.41 304.39 L559.41 304.88 L561.41 305.37 L563.41 305.86 L565.41 306.35 L567.41 306.84 L569.41 307.32 L571.42 307.8 L573.42 308.28 L575.42 308.74 L577.42 309.21 L579.42 309.67 L581.42 310.13 L583.42 310.59 L585.42 311.05 L587.42 311.51 L589.43 311.97 L591.43 312.44 L593.43 312.9 L595.43 313.37 L597.43 313.85 L599.43 314.33 L601.43 314.82 L603.43 315.31 L605.43 315.82 L607.44 316.33 L609.44 316.85 L611.44 317.38 L613.44 317.93 L615.44 318.48 L617.44 319.05 L619.44 319.63 L621.44 320.23 L623.44 320.84 L625.44 321.46 L627.45 322.09 L629.45 322.73 L631.45 323.38 L633.45 324.02 L635.45 324.67 L637.45 325.33 L639.45 325.98 L641.45 326.62 L643.45 327.26 L645.46 327.9 L647.46 328.53 L649.46 329.15 L651.46 329.75 L653.46 330.35 L655.46 330.93 L657.46 331.51 L659.46 332.08 L661.46 332.64 L663.47 333.19 L665.47 333.74 L667.47 334.28 L669.47 334.82 L671.47 335.36 L673.47 335.9 L675.47 336.43 L677.47 336.97 L679.47 337.5 L681.48 338.04 L683.48 338.58 L685.48 339.13 L687.48 339.67 L689.48 340.22 L691.48 340.77 L693.48 341.32 L695.48 341.87 L697.48 342.42 L699.48 342.97 L701.49 343.53 L703.49 344.08 L705.49 344.64 L707.49 345.19 L709.49 345.74 L711.49 346.3 L713.49 346.85 L715.49 347.41 L717.49 347.96 L719.5 348.51 L721.5 349.06 L723.5 349.61 L725.5 350.15 L727.5 350.7" fill="none" stroke="#0000ff" stroke-width="0.4" stroke-dasharray="13 9"/>
<path d="M173.2 325.94 L175.2 326.28 L177.2 326.63 L179.2 327 L181.2 327.36 L183.21 327.72 L185.21 328.07 L187.21 328.39 L189.21 328.68 L191.21 328.94 L193.21 329.16 L195.21 329.32 L197.21 329.43 L199.21 329.48 L201.22 329.48 L203.22 329.45 L205.22 329.4 L207.22 329.32 L209.22 329.22 L211.22 329.1 L213.22 328.99 L215.22 328.87 L217.22 328.75 L219.22 328.61 L221.23 328.46 L223.23 328.28 L225.23 328.07 L227.23 327.84 L229.23 327.59 L231.23 327.33 L233.23 327.06 L235.23 326.79 L237.23 326.53 L239.24 326.28 L241.24 326.04 L243.24 325.8 L245.24 325.56 L247.24 325.3 L249.24 325.04 L251.24 324.75 L253.24 324.45 L255.24 324.14 L257.25 323.81 L259.25 323.46 L261.25 323.1 L263.25 322.72 L265.25 322.33 L267.25 321.91 L269.25 321.49 L271.25 321.06 L273.25 320.61 L275.26 320.16 L277.26 319.7 L279.26 319.23 L281.26 318.76 L283.26 318.29 L285.26 317.82 L287.26 317.34 L289.26 316.87 L291.26 316.4 L293.26 315.94 L295.27 315.47 L297.27 315 L299.27 314.54 L301.27 314.08 L303.27 313.61 L305.27 313.14 L307.27 312.67 L309.27 312.18 L311.27 311.7 L313.28 311.2 L315.28 310.7 L317.28 310.18 L319.28 309.65 L321.28 309.12 L323.28 308.59 L325.28 308.05 L327.28 307.52 L329.28 306.99 L331.29 306.47 L333.29 305.96 L335.29 305.46 L337.29 304.97 L339.29 304.5 L341.29 304.04 L343.29 303.6 L345.29 303.16 L347.29 302.74 L349.3 302.33 L351.3 301.92 L353.3 301.52 L355.3 301.12 L357.3 300.72 L359.3 300.32 L361.3 299.93 L363.3 299.52 L365.3 299.12 L367.31 298.72 L369.31 298.32 L371.31 297.92 L373.31 297.52 L375.31 297.14 L377.31 296.76 L379.31 296.39 L381.31 296.04 L383.31 295.69 L385.31 295.37 L387.32 295.06 L389.32 294.76 L391.32 294.47 L393.32 294.2 L395.32 293.95 L397.32 293.7 L399.32 293.46 L401.32 293.24 L403.32 293.03 L405.33 292.82 L407.33 292.63 L409.33 292.45 L411.33 292.27 L413.33 292.1 L415.33 291.95 L417.33 291.8 L419.33 291.67 L421.33 291.54 L423.34 291.43 L425.34 291.33 L427.34 291.24 L429.34 291.16 L431.34 291.1 L433.34 291.05 L435.34 291.01 L437.34 290.98 L439.34 290.96 L441.35 290.95 L443.35 290.96 L445.35 290.97 L447.35 290.99 L449.35 291.02 L451.35 291.05 L453.35 291.09 L455.35 291.14 L457.35 291.19 L459.35 291.25 L461.36 291.31 L463.36 291.38 L465.36 291.45 L467.36 291.52 L469.36 291.61 L471.36 291.7 L473.36 291.79 L475.36 291.89 L477.36 292 L479.37 292.11 L481.37 292.23 L483.37 292.36 L485.37 292.49 L487.37 292.62 L489.37 292.77 L491.37 292.91 L493.37 293.06 L495.37 293.22 L497.38 293.38 L499.38 293.54 L501.38 293.71 L503.38 293.88 L505.38 294.06 L507.38 294.25 L509.38 294.44 L511.38 294.63 L513.38 294.84 L515.39 295.05 L517.39 295.27 L519.39 295.5 L521.39 295.74 L523.39 295.99 L525.39 296.26 L527.39 296.55 L529.39 296.85 L531.39 297.18 L533.39 297.53 L535.4 297.91 L537.4 298.3 L539.4 298.71 L541.4 299.13 L543.4 299.57 L545.4 300.02 L547.4 300.49 L549.4 300.96 L551.4 301.45 L553.41 301.94 L555.41 302.44 L557.41 302.94 L559.41 303.44 L561.41 303.95 L563.41 304.46 L565.41 304.96 L567.41 305.47 L569.41 305.96 L571.42 306.46 L573.42 306.95 L575.42 307.43 L577.42 307.91 L579.42 308.38 L581.42 308.86 L583.42 309.33 L585.42 309.8 L587.42 310.27 L589.43 310.75 L591.43 311.22 L593.43 311.7 L595.43 312.18 L597.43 312.67 L599.43 313.16 L601.43 313.66 L603.43 314.16 L605.43 314.67 L607.44 315.19 L609.44 315.72 L611.44 316.26 L613.44 316.81 L615.44 317.37 L617.44 317.95 L619.44 318.53 L621.44 319.13 L623.44 319.75 L625.44 320.37 L627.45 321.01 L629.45 321.65 L631.45 322.3 L633.45 322.95 L635.45 323.6 L637.45 324.26 L639.45 324.91 L641.45 325.56 L643.45 326.2 L645.46 326.84 L647.46 327.47 L649.46 328.09 L651.46 328.7 L653.46 329.3 L655.46 329.89 L657.46 330.47 L659.46 331.04 L661.46 331.6 L663.47 332.16 L665.47 332.71 L667.47 333.25 L669.47 333.8 L671.47 334.34 L673.47 334.87 L675.47 335.41 L677.47 335.95 L679.47 336.49 L681.48 337.03 L683.48 337.57 L685.48 338.12 L687.48 338.66 L689.48 339.21 L691.48 339.76 L693.48 340.31 L695.48 340.87 L697.48 341.42 L699.48 341.97 L701.49 342.53 L703.49 343.08 L705.49 343.64 L707.49 344.2 L709.49 344.75 L711.49 345.31 L713.49 345.86 L715.49 346.41 L717.49 346.97 L719.5 347.52 L721.5 348.07 L723.5 348.62 L725.5 349.16 L727.5 349.71" fill="none" stroke="#0000ff" stroke-width="0.4" stroke-dasharray="9 14"/>
<path d="M173.2 321.8 L175.2 322.28 L177.2 322.75 L179.2 323.22 L181.2 323.68 L183.21 324.12 L185.21 324.54 L187.21 324.93 L189.21 325.29 L191.21 325.6 L193.21 325.87 L195.21 326.09 L197.21 326.25 L199.21 326.35 L201.22 326.39 L203.22 326.38 L205.22 326.34 L207.22 326.26 L209.22 326.16 L211.22 326.04 L213.22 325.93 L215.22 325.81 L217.22 325.69 L219.22 325.55 L221.23 325.4 L223.23 325.21 L225.23 325 L227.23 324.75 L229.23 324.48 L231.23 324.19 L233.23 323.89 L235.23 323.6 L237.23 323.31 L239.24 323.04 L241.24 322.77 L243.24 322.51 L245.24 322.24 L247.24 321.98 L249.24 321.71 L251.24 321.42 L253.24 321.12 L255.24 320.81 L257.25 320.48 L259.25 320.13 L261.25 319.77 L263.25 319.39 L265.25 319 L267.25 318.58 L269.25 318.16 L271.25 317.73 L273.25 317.28 L275.26 316.83 L277.26 316.37 L279.26 315.9 L281.26 315.43 L283.26 314.96 L285.26 314.49 L287.26 314.01 L289.26 313.54 L291.26 313.07 L293.26 312.61 L295.27 312.16 L297.27 311.71 L299.27 311.27 L301.27 310.83 L303.27 310.39 L305.27 309.95 L307.27 309.51 L309.27 309.06 L311.27 308.61 L313.28 308.15 L315.28 307.68 L317.28 307.2 L319.28 306.71 L321.28 306.21 L323.28 305.71 L325.28 305.2 L327.28 304.7 L329.28 304.2 L331.29 303.7 L333.29 303.21 L335.29 302.72 L337.29 302.25 L339.29 301.8 L341.29 301.36 L343.29 300.93 L345.29 300.51 L347.29 300.11 L349.3 299.71 L351.3 299.32 L353.3 298.93 L355.3 298.55 L357.3 298.17 L359.3 297.8 L361.3 297.42 L363.3 297.04 L365.3 296.66 L367.31 296.28 L369.31 295.9 L371.31 295.53 L373.31 295.16 L375.31 294.79 L377.31 294.44 L379.31 294.09 L381.31 293.76 L383.31 293.44 L385.31 293.13 L387.32 292.84 L389.32 292.55 L391.32 292.29 L393.32 292.03 L395.32 291.79 L397.32 291.56 L399.32 291.34 L401.32 291.13 L403.32 290.93 L405.33 290.74 L407.33 290.56 L409.33 290.39 L411.33 290.23 L413.33 290.08 L415.33 289.94 L417.33 289.8 L419.33 289.68 L421.33 289.57 L423.34 289.47 L425.34 289.39 L427.34 289.31 L429.34 289.24 L431.34 289.19 L433.34 289.15 L435.34 289.12 L437.34 289.11 L439.34 289.1 L441.35 289.1 L443.35 289.12 L445.35 289.14 L447.35 289.17 L449.35 289.2 L451.35 289.25 L453.35 289.3 L455.35 289.36 L457.35 289.42 L459.35 289.48 L461.36 289.55 L463.36 289.63 L465.36 289.71 L467.36 289.8 L469.36 289.89 L471.36 289.99 L473.36 290.1 L475.36 290.21 L477.36 290.33 L479.37 290.45 L481.37 290.58 L483.37 290.72 L485.37 290.87 L487.37 291.01 L489.37 291.17 L491.37 291.33 L493.37 291.49 L495.37 291.66 L497.38 291.83 L499.38 292.01 L501.38 292.19 L503.38 292.38 L505.38 292.57 L507.38 292.76 L509.38 292.96 L511.38 293.17 L513.38 293.39 L515.39 293.61 L517.39 293.85 L519.39 294.09 L521.39 294.34 L523.39 294.6 L525.39 294.88 L527.39 295.18 L529.39 295.5 L531.39 295.84 L533.39 296.2 L535.4 296.59 L537.4 296.99 L539.4 297.41 L541.4 297.85 L543.4 298.3 L545.4 298.76 L547.4 299.24 L549.4 299.73 L551.4 300.22 L553.41 300.73 L555.41 301.24 L557.41 301.75 L559.41 302.27 L561.41 302.79 L563.41 303.31 L565.41 303.83 L567.41 304.34 L569.41 304.85 L571.42 305.36 L573.42 305.86 L575.42 306.35 L577.42 306.84 L579.42 307.33 L581.42 307.81 L583.42 308.3 L585.42 308.78 L587.42 309.26 L589.43 309.75 L591.43 310.23 L593.43 310.72 L595.43 311.21 L597.43 311.7 L599.43 312.2 L601.43 312.71 L603.43 313.22 L605.43 313.74 L607.44 314.26 L609.44 314.8 L611.44 315.34 L613.44 315.9 L615.44 316.46 L617.44 317.04 L619.44 317.63 L621.44 318.24 L623.44 318.85 L625.44 319.48 L627.45 320.12 L629.45 320.76 L631.45 321.41 L633.45 322.07 L635.45 322.72 L637.45 323.38 L639.45 324.03 L641.45 324.69 L643.45 325.34 L645.46 325.98 L647.46 326.61 L649.46 327.23 L651.46 327.84 L653.46 328.45 L655.46 329.04 L657.46 329.62 L659.46 330.19 L661.46 330.75 L663.47 331.31 L665.47 331.86 L667.47 332.41 L669.47 332.96 L671.47 333.5 L673.47 334.04 L675.47 334.58 L677.47 335.12 L679.47 335.66 L681.48 336.2 L683.48 336.74 L685.48 337.29 L687.48 337.84 L689.48 338.39 L691.48 338.94 L693.48 339.49 L695.48 340.05 L697.48 340.6 L699.48 341.16 L701.49 341.71 L703.49 342.27 L705.49 342.83 L707.49 343.38 L709.49 343.94 L711.49 344.49 L713.49 345.05 L715.49 345.6 L717.49 346.16 L719.5 346.71 L721.5 347.26 L723.5 347.81 L725.5 348.35 L727.5 348.9" fill="none" stroke="#0000ff" stroke-width="2.8" stroke-dasharray="12.9 3.85 2.6 3.85"/>
<path d="M173.2 358.2 L175.2 357.28 L177.2 356.35 L179.2 355.41 L181.2 354.45 L183.21 353.48 L185.21 352.5 L187.21 351.51 L189.21 350.51 L191.21 349.5 L193.21 348.49 L195.21 347.46 L197.21 346.44 L199.21 345.41 L201.22 344.38 L203.22 343.34 L205.22 342.3 L207.22 341.27 L209.22 340.23 L211.22 339.2 L213.22 338.16 L215.22 337.14 L217.22 336.11 L219.22 335.09 L221.23 334.08 L223.23 333.08 L225.23 332.08 L227.23 331.1 L229.23 330.12 L231.23 329.16 L233.23 328.22 L235.23 327.28 L237.23 326.37 L239.24 325.47 L241.24 324.59 L243.24 323.73 L245.24 322.88 L247.24 322.05 L249.24 321.22 L251.24 320.4 L253.24 319.58 L255.24 318.77 L257.25 317.94 L259.25 317.11 L261.25 316.28 L263.25 315.43 L265.25 314.58 L267.25 313.74 L269.25 312.91 L271.25 312.09 L273.25 311.29 L275.26 310.52 L277.26 309.76 L279.26 309.01 L281.26 308.28 L283.26 307.57 L285.26 306.87 L287.26 306.18 L289.26 305.51 L291.26 304.85 L293.26 304.2 L295.27 303.56 L297.27 302.93 L299.27 302.31 L301.27 301.7 L303.27 301.09 L305.27 300.49 L307.27 299.89 L309.27 299.29 L311.27 298.7 L313.28 298.1 L315.28 297.51 L317.28 296.92 L319.28 296.32 L321.28 295.74 L323.28 295.16 L325.28 294.58 L327.28 294.02 L329.28 293.47 L331.29 292.94 L333.29 292.42 L335.29 291.92 L337.29 291.43 L339.29 290.95 L341.29 290.48 L343.29 290.03 L345.29 289.59 L347.29 289.16 L349.3 288.74 L351.3 288.33 L353.3 287.92 L355.3 287.52 L357.3 287.13 L359.3 286.74 L361.3 286.35 L363.3 285.96 L365.3 285.58 L367.31 285.21 L369.31 284.85 L371.31 284.5 L373.31 284.17 L375.31 283.86 L377.31 283.57 L379.31 283.31 L381.31 283.07 L383.31 282.87 L385.31 282.68 L387.32 282.52 L389.32 282.39 L391.32 282.27 L393.32 282.16 L395.32 282.07 L397.32 282 L399.32 281.93 L401.32 281.87 L403.32 281.81 L405.33 281.76 L407.33 281.72 L409.33 281.69 L411.33 281.67 L413.33 281.66 L415.33 281.65 L417.33 281.66 L419.33 281.69 L421.33 281.72 L423.34 281.77 L425.34 281.82 L427.34 281.89 L429.34 281.97 L431.34 282.06 L433.34 282.15 L435.34 282.25 L437.34 282.35 L439.34 282.46 L441.35 282.58 L443.35 282.69 L445.35 282.8 L447.35 282.89 L449.35 282.98 L451.35 283.04 L453.35 283.09 L455.35 283.13 L457.35 283.16 L459.35 283.2 L461.36 283.24 L463.36 283.3 L465.36 283.38 L467.36 283.49 L469.36 283.63 L471.36 283.81 L473.36 284.03 L475.36 284.29 L477.36 284.57 L479.37 284.89 L481.37 285.23 L483.37 285.59 L485.37 285.96 L487.37 286.35 L489.37 286.74 L491.37 287.13 L493.37 287.53 L495.37 287.92 L497.38 288.32 L499.38 288.72 L501.38 289.12 L503.38 289.52 L505.38 289.92 L507.38 290.32 L509.38 290.72 L511.38 291.12 L513.38 291.52 L515.39 291.92 L517.39 292.32 L519.39 292.73 L521.39 293.14 L523.39 293.56 L525.39 293.99 L527.39 294.42 L529.39 294.86 L531.39 295.32 L533.39 295.78 L535.4 296.25 L537.4 296.73 L539.4 297.21 L541.4 297.7 L543.4 298.2 L545.4 298.7 L547.4 299.21 L549.4 299.72 L551.4 300.24 L553.41 300.75 L555.41 301.27 L557.41 301.79 L559.41 302.3 L561.41 302.82 L563.41 303.33 L565.41 303.84 L567.41 304.35 L569.41 304.85 L571.42 305.35 L573.42 305.85 L575.42 306.34 L577.42 306.82 L579.42 307.31 L581.42 307.79 L583.42 308.27 L585.42 308.75 L587.42 309.23 L589.43 309.72 L591.43 310.2 L593.43 310.69 L595.43 311.18 L597.43 311.68 L599.43 312.18 L601.43 312.69 L603.43 313.2 L605.43 313.72 L607.44 314.25 L609.44 314.79 L611.44 315.33 L613.44 315.89 L615.44 316.46 L617.44 317.04 L619.44 317.63 L621.44 318.24 L623.44 318.86 L625.44 319.48 L627.45 320.12 L629.45 320.77 L631.45 321.42 L633.45 322.07 L635.45 322.73 L637.45 323.38 L639.45 324.04 L641.45 324.69 L643.45 325.34 L645.46 325.98 L647.46 326.61 L649.46 327.23 L651.46 327.84 L653.46 328.45 L655.46 329.04 L657.46 329.62 L659.46 330.19 L661.46 330.75 L663.47 331.31 L665.47 331.86 L667.47 332.41 L669.47 332.96 L671.47 333.5 L673.47 334.04 L675.47 334.58 L677.47 335.12 L679.47 335.66 L681.48 336.2 L683.48 336.74 L685.48 337.29 L687.48 337.84 L689.48 338.39 L691.48 338.94 L693.48 339.49 L695.48 340.05 L697.48 340.6 L699.48 341.16 L701.49 341.71 L703.49 342.27 L705.49 342.82 L707.49 343.38 L709.49 343.94 L711.49 344.49 L713.49 345.05 L715.49 345.6 L717.49 346.15 L719.5 346.71 L721.5 347.26 L723.5 347.81 L725.5 348.35 L727.5 348.9" fill="none" stroke="#00008b" stroke-width="2.7" stroke-dasharray="2.3 2.95"/>
</g>
<line x1="238.9" y1="285.3" x2="238.9" y2="326.3" stroke="#000" stroke-width="1.5"/>
<circle cx="238.9" cy="306.1" r="4.6" fill="#000"/>
<line x1="290.9" y1="258.9" x2="290.9" y2="317.3" stroke="#000" stroke-width="1.5"/>
<circle cx="290.9" cy="288.1" r="4.6" fill="#000"/>
<line x1="332.6" y1="217.4" x2="332.6" y2="292" stroke="#000" stroke-width="1.5"/>
<rect x="327.85" y="251.15" width="9.5" height="9.5" fill="#000"/>
<line x1="352.7" y1="214.2" x2="352.7" y2="284.5" stroke="#000" stroke-width="1.5"/>
<rect x="347.95" y="243.75" width="9.5" height="9.5" fill="#000"/>
<line x1="378.1" y1="221.9" x2="378.1" y2="290.7" stroke="#000" stroke-width="1.5"/>
<rect x="373.35" y="251.65" width="9.5" height="9.5" fill="#000"/>
<line x1="398.2" y1="236.8" x2="398.2" y2="315.8" stroke="#000" stroke-width="1.5"/>
<rect x="393.45" y="271.55" width="9.5" height="9.5" fill="#000"/>
<path d="M87 412.89 L91 412.89 M727.5 412.89 L723.5 412.89 M87 398.04 L91 398.04 M727.5 398.04 L723.5 398.04 M87 383.2 L95 383.2 M727.5 383.2 L719.5 383.2 M87 368.36 L91 368.36 M727.5 368.36 L723.5 368.36 M87 353.51 L91 353.51 M727.5 353.51 L723.5 353.51 M87 338.66 L91 338.66 M727.5 338.66 L723.5 338.66 M87 323.82 L95 323.82 M727.5 323.82 L719.5 323.82 M87 308.98 L91 308.98 M727.5 308.98 L723.5 308.98 M87 294.13 L91 294.13 M727.5 294.13 L723.5 294.13 M87 279.28 L91 279.28 M727.5 279.28 L723.5 279.28 M87 264.44 L95 264.44 M727.5 264.44 L719.5 264.44 M87 249.59 L91 249.59 M727.5 249.59 L723.5 249.59 M87 234.75 L91 234.75 M727.5 234.75 L723.5 234.75 M87 219.91 L91 219.91 M727.5 219.91 L723.5 219.91 M87 205.06 L95 205.06 M727.5 205.06 L719.5 205.06 M87 190.22 L91 190.22 M727.5 190.22 L723.5 190.22 M87 175.37 L91 175.37 M727.5 175.37 L723.5 175.37 M87 160.53 L91 160.53 M727.5 160.53 L723.5 160.53 M87 145.68 L95 145.68 M727.5 145.68 L719.5 145.68 M87 130.83 L91 130.83 M727.5 130.83 L723.5 130.83 M87 115.99 L91 115.99 M727.5 115.99 L723.5 115.99 M87 101.14 L91 101.14 M727.5 101.14 L723.5 101.14 M87 86.3 L95 86.3 M727.5 86.3 L719.5 86.3 M87 71.45 L91 71.45 M727.5 71.45 L723.5 71.45 M91.18 427.7 L91.18 423.7 M101.7 427.7 L101.7 423.7 M111.1 427.7 L111.1 419.7 M172.96 427.7 L172.96 423.7 M209.15 427.7 L209.15 423.7 M234.82 427.7 L234.82 423.7 M254.74 427.7 L254.74 423.7 M271.01 427.7 L271.01 423.7 M284.77 427.7 L284.77 423.7 M296.68 427.7 L296.68 423.7 M307.2 427.7 L307.2 423.7 M316.6 427.7 L316.6 419.7 M378.46 427.7 L378.46 423.7 M414.65 427.7 L414.65 423.7 M440.32 427.7 L440.32 423.7 M460.24 427.7 L460.24 423.7 M476.51 427.7 L476.51 423.7 M490.27 427.7 L490.27 423.7 M502.18 427.7 L502.18 423.7 M512.7 427.7 L512.7 423.7 M522.1 427.7 L522.1 419.7 M583.96 427.7 L583.96 423.7 M620.15 427.7 L620.15 423.7 M645.82 427.7 L645.82 423.7 M665.74 427.7 L665.74 423.7 M682.01 427.7 L682.01 423.7 M695.77 427.7 L695.77 423.7 M707.68 427.7 L707.68 423.7 M718.2 427.7 L718.2 423.7 M148.9 56.8 L148.9 60.8 M185.11 56.8 L185.11 60.8 M210.8 56.8 L210.8 60.8 M230.73 56.8 L230.73 60.8 M247.01 56.8 L247.01 60.8 M260.78 56.8 L260.78 60.8 M272.7 56.8 L272.7 60.8 M283.22 56.8 L283.22 60.8 M292.63 56.8 L292.63 64.8 M354.53 56.8 L354.53 60.8 M390.74 56.8 L390.74 60.8 M416.43 56.8 L416.43 60.8 M436.36 56.8 L436.36 60.8 M452.64 56.8 L452.64 60.8 M466.41 56.8 L466.41 60.8 M478.33 56.8 L478.33 60.8 M488.85 56.8 L488.85 60.8 M498.26 56.8 L498.26 64.8 M560.16 56.8 L560.16 60.8 M596.37 56.8 L596.37 60.8 M622.06 56.8 L622.06 60.8 M641.99 56.8 L641.99 60.8 M658.27 56.8 L658.27 60.8 M672.04 56.8 L672.04 60.8 M683.96 56.8 L683.96 60.8 M694.48 56.8 L694.48 60.8 M703.89 56.8 L703.89 64.8" stroke="#000" stroke-width="1.45" fill="none"/>
<rect x="87" y="56.8" width="640.5" height="370.9" fill="none" stroke="#000" stroke-width="1.75" stroke-linejoin="round"/>
<path d="M664.0 90.0 H707.6" stroke="#ff0000" stroke-width="2.5" fill="none"/>
<path d="M664.0 112.7 H707.6" stroke="#000" stroke-width="2.8" stroke-dasharray="8.3 8.6" fill="none"/>
<path d="M664.0 135.4 H707.6" stroke="#0000ff" stroke-width="2.7" stroke-dasharray="12.9 3.85 2.6 3.85" fill="none"/>
<path d="M664.0 158.1 H707.6" stroke="#00008b" stroke-width="2.7" stroke-dasharray="2.3 2.95" fill="none"/>
<circle cx="685.6" cy="180.8" r="4.6" fill="#000"/>
<rect x="681.2" y="199.1" width="8.8" height="8.8" fill="#000"/>
<rect x="681.8" y="222.4" width="7.6" height="7.6" fill="none" stroke="#000" stroke-width="1.3"/>
<circle cx="685.6" cy="226.2" r="0.9" fill="#000"/>
<text transform="translate(653.6 93.9)" font-size="19.6" text-anchor="end">dynNNLO</text>
<text transform="translate(653.6 116.6)" font-size="19.6" text-anchor="end">dynNLO</text>
<text transform="translate(653.6 139.3)" font-size="19.6" text-anchor="end">stdNNLO</text>
<text transform="translate(653.6 162)" font-size="19.6" text-anchor="end">stdNLO</text>
<text transform="translate(653.6 184.7)" font-size="19.6" text-anchor="end">prelim.</text>
<text transform="translate(653.6 207.9)" font-size="19.6" text-anchor="end">e<tspan font-size="15.68" dy="-7.2">+</tspan><tspan dy="7.2">p</tspan></text>
<text transform="translate(653.6 230.6)" font-size="19.6" text-anchor="end">e<tspan font-size="15.68" dy="-7.2">-</tspan><tspan dy="7.2">p</tspan></text>
<text transform="translate(173.2 168.9) scale(1 1.02)" font-size="23.8" text-anchor="start">W = 276 GeV</text>
<text transform="translate(76.8 388.3) scale(1 1.06)" font-size="19.6" text-anchor="end">0</text>
<text transform="translate(76.8 328.92) scale(1 1.06)" font-size="19.6" text-anchor="end">0.2</text>
<text transform="translate(76.8 269.54) scale(1 1.06)" font-size="19.6" text-anchor="end">0.4</text>
<text transform="translate(76.8 210.16) scale(1 1.06)" font-size="19.6" text-anchor="end">0.6</text>
<text transform="translate(76.8 150.78) scale(1 1.06)" font-size="19.6" text-anchor="end">0.8</text>
<text transform="translate(76.8 91.4) scale(1 1.06)" font-size="19.6" text-anchor="end">1</text>
<text transform="translate(111.5 456.7) scale(1 1.06)" font-size="19.6" text-anchor="middle">1</text>
<text transform="translate(317 456.7) scale(1 1.06)" font-size="19.6" text-anchor="middle">10</text>
<text transform="translate(522.5 456.7) scale(1 1.06)" font-size="19.6" text-anchor="middle">100</text>
<text transform="translate(727.4 456.7) scale(1 1.06)" font-size="19.6" text-anchor="middle">10<tspan font-size="15.68" dy="-9.4">3</tspan></text>
<text transform="translate(87.4 38.2) scale(1 1.06)" font-size="19.6" text-anchor="middle">10<tspan font-size="15.68" dy="-8.5">-5</tspan></text>
<text transform="translate(293.03 38.2) scale(1 1.06)" font-size="19.6" text-anchor="middle">10<tspan font-size="15.68" dy="-8.5">-4</tspan></text>
<text transform="translate(498.66 38.2) scale(1 1.06)" font-size="19.6" text-anchor="middle">10<tspan font-size="15.68" dy="-8.5">-3</tspan></text>
<text transform="translate(704.29 38.2) scale(1 1.06)" font-size="19.6" text-anchor="middle">10<tspan font-size="15.68" dy="-8.5">-2</tspan></text>
<text transform="translate(407.3 16) scale(1 1.06)" font-size="19.6" text-anchor="middle">x</text>
<text transform="translate(407.4 490.1) scale(1 1.06)" font-size="19.6" text-anchor="middle">Q<tspan font-size="15.68" dy="-9.8">2</tspan><tspan dy="9.8"> (GeV</tspan><tspan font-size="15.68" dy="-9.8">2</tspan><tspan dy="9.8">)</tspan></text>
<text transform="translate(23 242.3) rotate(-90)" font-size="19.6" text-anchor="middle">F<tspan font-size="15.68" dy="5.3">L</tspan><tspan dy="-5.3">(x,Q</tspan><tspan font-size="15.68" dy="-9.6">2</tspan><tspan dy="9.6">)</tspan></text>
</svg></body></html>
